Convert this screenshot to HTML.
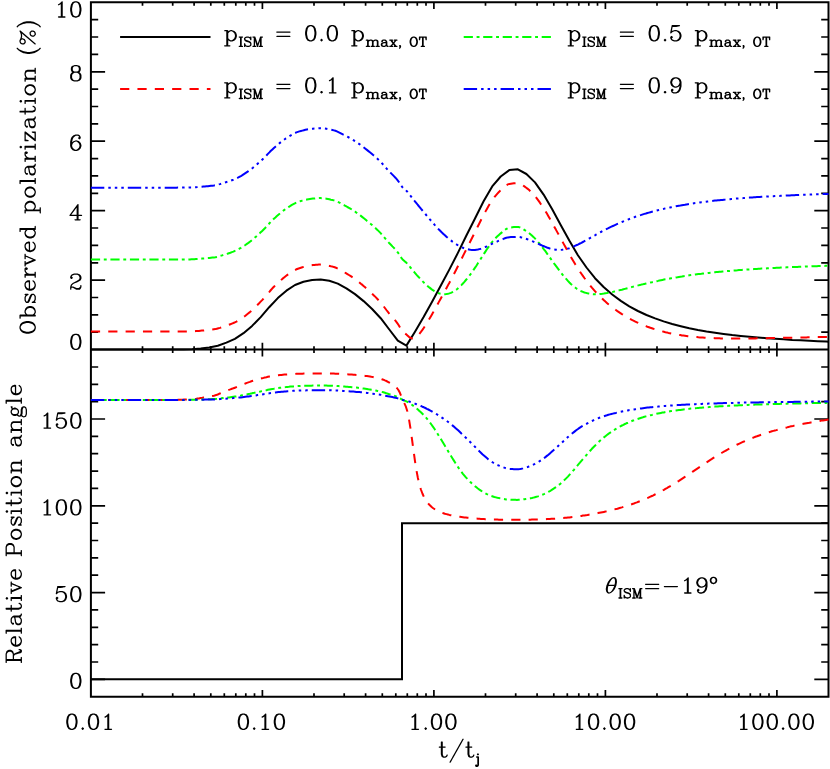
<!DOCTYPE html>
<html><head><meta charset="utf-8"><title>plot</title>
<style>html,body{margin:0;padding:0;background:#fff;font-family:"Liberation Sans",sans-serif;}svg{display:block}</style>
</head><body>
<svg width="830" height="769" viewBox="0 0 830 769">
<rect width="830" height="769" fill="#fff"/>
<defs><path id="g0" d="M4.81,-20.88 4.38,-20.62 3.38,-19.62 3.19,-19.38 2.19,-17.38 2.19,-17.06 2.12,-17.00 2.12,-16.00 2.19,-15.94 2.19,-15.69 2.38,-15.38 3.56,-14.25 4.00,-14.12 4.44,-14.25 5.62,-15.38 5.81,-15.69 5.81,-15.94 5.88,-16.00 5.81,-16.06 5.81,-16.31 5.62,-16.62 4.38,-17.81 4.69,-18.44 5.50,-19.25 8.06,-20.12 11.81,-20.12 13.44,-19.31 14.31,-18.44 15.12,-16.81 15.12,-15.19 14.38,-13.69 14.19,-13.50 11.56,-11.75 5.62,-8.81 3.38,-6.62 3.12,-6.19 2.19,-3.38 2.19,-3.06 2.12,-3.00 2.12,0.00 2.19,0.06 2.19,0.31 2.69,0.81 2.94,0.81 3.00,0.88 3.44,0.75 3.75,0.44 3.88,0.00 3.88,-1.62 4.38,-2.12 5.81,-2.12 10.69,0.81 10.94,0.81 11.00,0.88 15.00,0.88 15.06,0.81 15.31,0.81 15.62,0.62 16.81,-0.62 17.81,-2.62 17.81,-2.94 17.88,-3.00 17.88,-5.00 17.75,-5.44 17.31,-5.81 17.06,-5.81 17.00,-5.88 16.94,-5.81 16.69,-5.81 16.19,-5.31 16.19,-5.06 16.12,-5.00 16.12,-3.38 15.44,-2.69 13.81,-1.88 11.12,-1.88 6.38,-3.81 6.06,-3.81 6.00,-3.88 4.31,-3.88 4.25,-4.06 4.75,-5.50 6.56,-7.31 8.56,-8.31 8.69,-8.31 8.88,-8.44 9.00,-8.44 9.19,-8.56 9.31,-8.56 9.50,-8.69 9.62,-8.69 9.81,-8.81 13.06,-10.06 13.38,-10.25 13.50,-10.25 16.50,-12.25 16.81,-12.62 17.81,-14.62 17.81,-14.94 17.88,-15.00 17.88,-17.00 17.81,-17.06 17.81,-17.38 16.81,-19.38 15.62,-20.62 15.19,-20.88 12.38,-21.81 12.06,-21.81 12.00,-21.88 8.00,-21.88 7.94,-21.81 7.62,-21.81Z"/>
<path id="g1" d="M13.00,-21.88 12.56,-21.75 12.19,-21.38 11.62,-20.62 11.50,-20.38 1.31,-6.56 1.12,-6.00 1.25,-5.56 1.56,-5.25 2.00,-5.12 11.06,-5.12 11.12,-5.06 11.12,-0.94 11.06,-0.88 9.00,-0.88 8.56,-0.75 8.19,-0.31 8.19,-0.06 8.12,0.00 8.19,0.06 8.19,0.31 8.56,0.75 9.00,0.88 16.00,0.88 16.44,0.75 16.75,0.44 16.88,0.00 16.75,-0.44 16.44,-0.75 16.00,-0.88 13.94,-0.88 13.88,-0.94 13.88,-5.06 13.94,-5.12 18.00,-5.12 18.44,-5.25 18.75,-5.56 18.88,-6.00 18.75,-6.44 18.44,-6.75 18.00,-6.88 13.94,-6.88 13.88,-6.94 13.88,-21.00 13.75,-21.44 13.44,-21.75ZM11.06,-16.88 11.12,-16.81 11.12,-6.94 11.06,-6.88 3.81,-6.88 3.75,-6.94Z"/>
<path id="g2" d="M13.38,-21.81 13.06,-21.81 13.00,-21.88 10.00,-21.88 9.94,-21.81 9.62,-21.81 6.81,-20.88 6.38,-20.62 4.19,-18.38 3.19,-16.38 2.19,-12.25 2.12,-12.19 2.19,-12.12 2.12,-12.00 2.12,-6.00 2.19,-5.94 2.19,-5.62 3.12,-2.81 3.38,-2.38 5.56,-0.25 8.62,0.81 8.94,0.81 9.00,0.88 11.00,0.88 11.06,0.81 11.38,0.81 14.19,-0.12 14.62,-0.38 16.75,-2.56 17.81,-5.62 17.81,-5.94 17.88,-6.00 17.88,-7.00 17.81,-7.06 17.81,-7.38 16.88,-10.19 16.62,-10.62 14.62,-12.62 14.19,-12.88 11.38,-13.81 11.06,-13.81 11.00,-13.88 10.00,-13.88 9.94,-13.81 9.62,-13.81 6.56,-12.75 4.94,-11.19 4.88,-11.25 4.88,-12.00 4.94,-12.06 5.75,-15.50 6.69,-17.44 8.56,-19.31 10.19,-20.12 12.81,-20.12 14.38,-19.31 14.62,-18.81 13.38,-17.62 13.19,-17.31 13.19,-17.06 13.12,-17.00 13.19,-16.94 13.19,-16.69 13.38,-16.38 14.56,-15.25 15.00,-15.12 15.44,-15.25 16.62,-16.38 16.81,-16.69 16.81,-16.94 16.88,-17.00 16.88,-18.00 16.81,-18.06 16.81,-18.38 15.81,-20.38 15.38,-20.81ZM10.06,-12.12 10.81,-12.12 12.44,-11.31 14.25,-9.50 15.12,-6.94 15.12,-6.06 14.25,-3.50 12.44,-1.69 10.81,-0.88 9.19,-0.88 7.56,-1.69 5.75,-3.50 4.88,-6.06 4.88,-6.94 5.75,-9.50 7.50,-11.25Z"/>
<path id="g3" d="M7.62,-21.81 4.56,-20.75 4.19,-20.38 3.19,-18.38 3.19,-18.06 3.12,-18.00 3.12,-15.00 3.19,-14.94 3.19,-14.62 4.19,-12.62 4.56,-12.25 5.19,-12.00 4.38,-11.62 3.38,-10.62 3.19,-10.38 2.19,-8.38 2.19,-8.06 2.12,-8.00 2.12,-4.00 2.19,-3.94 2.19,-3.62 3.19,-1.62 4.38,-0.38 4.81,-0.12 7.62,0.81 7.94,0.81 8.00,0.88 12.00,0.88 12.06,0.81 12.38,0.81 15.19,-0.12 15.62,-0.38 16.81,-1.62 17.81,-3.62 17.81,-3.94 17.88,-4.00 17.88,-8.00 17.81,-8.06 17.81,-8.38 16.81,-10.38 16.62,-10.62 15.62,-11.62 14.81,-12.00 15.44,-12.25 15.81,-12.62 16.81,-14.62 16.81,-14.94 16.88,-15.00 16.88,-18.00 16.81,-18.06 16.81,-18.38 15.81,-20.38 15.44,-20.75 15.19,-20.88 12.38,-21.81 12.06,-21.81 12.00,-21.88 8.00,-21.88 7.94,-21.81ZM8.19,-11.12 11.81,-11.12 13.44,-10.31 14.31,-9.44 15.12,-7.81 15.12,-4.19 14.31,-2.56 13.44,-1.69 11.81,-0.88 8.19,-0.88 6.56,-1.69 5.69,-2.56 4.88,-4.19 4.88,-7.81 5.69,-9.44 6.56,-10.31ZM6.62,-19.31 8.19,-20.12 11.81,-20.12 13.31,-19.38 14.12,-17.81 14.12,-15.19 13.38,-13.69 11.81,-12.88 8.19,-12.88 6.69,-13.62 5.88,-15.19 5.88,-17.81Z"/>
<path id="g4" d="M9.00,-21.88 8.94,-21.81 8.62,-21.81 5.56,-20.75 5.25,-20.50 3.25,-17.50 3.06,-16.94 3.06,-16.69 3.00,-16.62 3.00,-16.38 2.94,-16.31 2.94,-16.06 2.88,-16.00 2.88,-15.75 2.81,-15.69 2.81,-15.44 2.75,-15.38 2.75,-15.12 2.69,-15.06 2.69,-14.81 2.62,-14.75 2.62,-14.50 2.56,-14.44 2.56,-14.19 2.50,-14.12 2.50,-13.88 2.44,-13.81 2.44,-13.56 2.38,-13.50 2.38,-13.25 2.31,-13.19 2.31,-12.94 2.12,-12.25 2.19,-12.12 2.12,-12.00 2.12,-9.00 2.19,-8.94 2.12,-8.75 2.19,-8.69 2.19,-8.44 2.25,-8.38 2.25,-8.12 2.31,-8.06 2.31,-7.81 2.38,-7.75 2.38,-7.50 2.44,-7.44 2.44,-7.19 2.50,-7.12 2.50,-6.88 2.56,-6.81 2.56,-6.56 2.62,-6.50 2.62,-6.25 2.69,-6.19 2.69,-5.94 2.75,-5.88 3.12,-3.81 3.25,-3.62 3.25,-3.50 5.25,-0.50 5.81,-0.12 8.62,0.81 8.94,0.81 9.00,0.88 11.00,0.88 11.06,0.81 11.38,0.81 14.44,-0.25 14.75,-0.50 16.75,-3.50 16.94,-4.06 16.94,-4.31 17.00,-4.38 17.00,-4.62 17.06,-4.69 17.06,-4.94 17.12,-5.00 17.12,-5.25 17.19,-5.31 17.19,-5.56 17.25,-5.62 17.25,-5.88 17.31,-5.94 17.31,-6.19 17.38,-6.25 17.38,-6.50 17.44,-6.56 17.44,-6.81 17.50,-6.88 17.50,-7.12 17.56,-7.19 17.56,-7.44 17.62,-7.50 17.62,-7.75 17.69,-7.81 17.69,-8.06 17.88,-8.75 17.81,-8.88 17.88,-9.00 17.88,-12.00 17.81,-12.06 17.88,-12.25 17.81,-12.31 17.81,-12.56 17.75,-12.62 17.75,-12.88 17.69,-12.94 17.69,-13.19 17.62,-13.25 17.62,-13.50 17.56,-13.56 17.56,-13.81 17.50,-13.88 17.50,-14.12 17.44,-14.19 17.44,-14.44 17.38,-14.50 17.38,-14.75 17.31,-14.81 17.31,-15.06 17.25,-15.12 16.88,-17.19 16.75,-17.38 16.75,-17.50 14.75,-20.50 14.19,-20.88 11.38,-21.81 11.06,-21.81 11.00,-21.88ZM9.19,-20.12 10.81,-20.12 12.44,-19.31 13.31,-18.44 14.19,-16.69 14.19,-16.44 14.25,-16.38 14.25,-16.12 14.31,-16.06 14.31,-15.81 14.38,-15.75 14.38,-15.50 14.44,-15.44 14.44,-15.19 14.50,-15.12 14.50,-14.88 14.56,-14.81 14.56,-14.56 14.62,-14.50 14.62,-14.25 14.69,-14.19 14.69,-13.94 14.75,-13.88 14.75,-13.62 14.81,-13.56 14.81,-13.31 14.88,-13.25 14.88,-13.00 14.94,-12.94 14.94,-12.69 15.12,-12.00 15.12,-9.00 15.06,-8.94 15.06,-8.69 15.00,-8.62 15.00,-8.38 14.94,-8.31 14.94,-8.06 14.88,-8.00 14.88,-7.75 14.81,-7.69 14.81,-7.44 14.75,-7.38 14.75,-7.12 14.69,-7.06 14.19,-4.31 13.31,-2.56 12.44,-1.69 10.81,-0.88 9.19,-0.88 7.56,-1.69 6.69,-2.56 5.81,-4.31 5.81,-4.56 5.75,-4.62 5.75,-4.88 5.69,-4.94 5.69,-5.19 5.62,-5.25 5.62,-5.50 5.56,-5.56 5.56,-5.81 5.50,-5.88 5.50,-6.12 5.44,-6.19 5.44,-6.44 5.38,-6.50 5.38,-6.75 5.31,-6.81 5.31,-7.06 5.25,-7.12 5.25,-7.38 5.19,-7.44 5.19,-7.69 5.12,-7.75 5.12,-8.00 5.06,-8.06 5.06,-8.31 4.88,-9.00 4.88,-12.00 4.94,-12.06 4.94,-12.31 5.00,-12.38 5.00,-12.62 5.06,-12.69 5.06,-12.94 5.12,-13.00 5.12,-13.25 5.19,-13.31 5.19,-13.56 5.25,-13.62 5.25,-13.88 5.31,-13.94 5.81,-16.69 6.69,-18.44 7.56,-19.31Z"/>
<path id="g5" d="M11.31,-21.81 11.06,-21.81 11.00,-21.88 10.94,-21.81 10.69,-21.81 10.38,-21.62 7.44,-18.69 5.62,-17.81 5.19,-17.31 5.19,-17.06 5.12,-17.00 5.25,-16.56 5.56,-16.25 6.00,-16.12 6.06,-16.19 6.38,-16.19 8.38,-17.19 9.06,-17.81 9.12,-17.75 9.12,-0.94 9.06,-0.88 6.00,-0.88 5.56,-0.75 5.25,-0.44 5.12,0.00 5.25,0.44 5.69,0.81 5.94,0.81 6.00,0.88 15.00,0.88 15.44,0.75 15.81,0.31 15.81,0.06 15.88,0.00 15.81,-0.06 15.81,-0.31 15.31,-0.81 15.06,-0.81 15.00,-0.88 11.94,-0.88 11.88,-0.94 11.88,-21.00 11.75,-21.44Z"/>
<path id="g6" d="M4.69,-21.81 4.25,-21.44 4.06,-20.94 4.06,-20.69 4.00,-20.62 4.00,-20.38 3.94,-20.31 3.94,-20.06 3.88,-20.00 3.88,-19.75 3.81,-19.69 3.81,-19.44 3.75,-19.38 3.75,-19.12 3.69,-19.06 3.69,-18.81 3.62,-18.75 3.62,-18.50 3.56,-18.44 3.56,-18.19 3.50,-18.12 3.50,-17.88 3.44,-17.81 3.44,-17.56 3.38,-17.50 3.38,-17.25 3.31,-17.19 3.31,-16.94 3.25,-16.88 3.25,-16.62 3.19,-16.56 3.19,-16.31 3.12,-16.25 3.12,-16.00 3.06,-15.94 3.06,-15.69 3.00,-15.62 3.00,-15.38 2.94,-15.31 2.94,-15.06 2.88,-15.00 2.88,-14.75 2.81,-14.69 2.81,-14.44 2.75,-14.38 2.75,-14.12 2.69,-14.06 2.69,-13.81 2.62,-13.75 2.62,-13.50 2.56,-13.44 2.56,-13.19 2.50,-13.12 2.50,-12.88 2.44,-12.81 2.44,-12.56 2.38,-12.50 2.38,-12.25 2.31,-12.19 2.31,-11.94 2.12,-11.25 2.25,-10.56 2.69,-10.19 2.94,-10.19 3.00,-10.12 3.06,-10.19 3.31,-10.19 3.62,-10.38 5.50,-12.25 8.06,-13.12 10.81,-13.12 12.44,-12.31 14.25,-10.50 15.12,-7.94 15.12,-6.06 14.25,-3.50 12.44,-1.69 10.81,-0.88 8.06,-0.88 5.50,-1.75 4.69,-2.56 4.38,-3.19 5.62,-4.38 5.81,-4.69 5.81,-4.94 5.88,-5.00 5.81,-5.06 5.81,-5.31 5.62,-5.62 4.62,-6.62 4.31,-6.81 4.06,-6.81 4.00,-6.88 3.56,-6.75 2.38,-5.62 2.19,-5.31 2.19,-5.06 2.12,-5.00 2.12,-4.00 2.19,-3.94 2.19,-3.62 3.19,-1.62 4.38,-0.38 4.81,-0.12 7.62,0.81 7.94,0.81 8.00,0.88 11.00,0.88 11.06,0.81 11.38,0.81 14.19,-0.12 14.62,-0.38 16.75,-2.56 17.81,-5.62 17.81,-5.94 17.88,-6.00 17.88,-8.00 17.81,-8.06 17.81,-8.38 16.88,-11.19 16.62,-11.62 14.44,-13.75 11.38,-14.81 11.06,-14.81 11.00,-14.88 8.00,-14.88 7.94,-14.81 7.62,-14.81 4.81,-13.88 4.50,-13.69 4.44,-13.81 4.50,-13.88 4.50,-14.12 4.56,-14.19 4.56,-14.44 4.62,-14.50 4.62,-14.75 4.69,-14.81 4.69,-15.06 4.75,-15.12 4.75,-15.38 4.81,-15.44 4.81,-15.69 4.88,-15.75 4.88,-16.00 4.94,-16.06 5.44,-18.81 5.56,-19.12 10.00,-19.12 10.06,-19.19 10.25,-19.12 10.31,-19.19 10.56,-19.19 10.62,-19.25 10.88,-19.25 10.94,-19.31 11.19,-19.31 11.25,-19.38 11.50,-19.38 11.56,-19.44 11.81,-19.44 11.88,-19.50 12.12,-19.50 12.19,-19.56 14.94,-20.06 15.44,-20.25 15.75,-20.56 15.88,-21.00 15.81,-21.06 15.81,-21.31 15.44,-21.75 15.00,-21.88 5.00,-21.88 4.94,-21.81Z"/>
<path id="g7" d="M5.00,-2.88 4.94,-2.81 4.69,-2.81 4.38,-2.62 3.38,-1.62 3.19,-1.31 3.19,-1.06 3.12,-1.00 3.19,-0.94 3.19,-0.69 3.38,-0.38 4.38,0.62 4.69,0.81 4.94,0.81 5.00,0.88 5.06,0.81 5.31,0.81 5.62,0.62 6.62,-0.38 6.81,-0.69 6.81,-0.94 6.88,-1.00 6.81,-1.06 6.81,-1.31 6.62,-1.62 5.62,-2.62 5.31,-2.81 5.06,-2.81Z"/>
<path id="g8" d="M4.69,-21.81 4.25,-21.44 4.12,-21.00 4.12,-14.94 4.06,-14.88 2.00,-14.88 1.94,-14.81 1.69,-14.81 1.19,-14.31 1.19,-14.06 1.12,-14.00 1.19,-13.94 1.19,-13.69 1.69,-13.19 1.94,-13.19 2.00,-13.12 4.06,-13.12 4.12,-13.06 4.12,-4.00 4.19,-3.94 4.19,-3.62 5.25,-0.56 5.62,-0.19 7.62,0.81 7.94,0.81 8.00,0.88 10.00,0.88 10.06,0.81 10.38,0.81 12.38,-0.19 12.81,-0.62 13.81,-2.62 13.81,-2.94 13.88,-3.00 13.81,-3.06 13.81,-3.31 13.31,-3.81 13.06,-3.81 13.00,-3.88 12.56,-3.75 12.19,-3.38 11.38,-1.69 9.81,-0.88 8.38,-0.88 7.69,-1.62 6.88,-4.06 6.88,-13.06 6.94,-13.12 10.00,-13.12 10.06,-13.19 10.31,-13.19 10.75,-13.56 10.88,-14.00 10.75,-14.44 10.31,-14.81 10.06,-14.81 10.00,-14.88 6.94,-14.88 6.88,-14.94 6.88,-21.00 6.81,-21.06 6.81,-21.31 6.31,-21.81 6.06,-21.81 6.00,-21.88 5.94,-21.81 5.69,-21.81 5.50,-21.69 5.31,-21.81 5.06,-21.81 5.00,-21.88 4.94,-21.81Z"/>
<path id="g9" d="M20.44,-25.75 20.00,-25.88 19.56,-25.75 19.19,-25.38 18.75,-24.62 18.56,-24.19 18.19,-23.62 18.00,-23.19 17.62,-22.62 17.44,-22.19 17.06,-21.62 16.88,-21.19 16.50,-20.62 16.31,-20.19 15.94,-19.62 15.75,-19.19 15.38,-18.62 15.19,-18.19 14.81,-17.62 14.62,-17.19 14.25,-16.62 14.06,-16.19 13.69,-15.62 13.50,-15.19 13.12,-14.62 12.94,-14.19 12.56,-13.62 12.38,-13.19 12.00,-12.62 11.81,-12.19 11.44,-11.62 11.25,-11.19 10.88,-10.62 10.69,-10.19 10.31,-9.62 10.12,-9.19 9.75,-8.62 9.56,-8.19 9.19,-7.62 9.00,-7.19 8.62,-6.62 8.44,-6.19 8.06,-5.62 7.88,-5.19 7.50,-4.62 7.31,-4.19 6.94,-3.62 6.75,-3.19 6.38,-2.62 6.19,-2.19 5.81,-1.62 5.62,-1.19 5.25,-0.62 5.06,-0.19 4.94,-0.06 3.38,2.81 3.00,3.38 2.81,3.81 2.44,4.38 2.25,4.81 1.88,5.38 1.69,5.81 1.31,6.38 1.12,7.00 1.25,7.44 1.56,7.75 2.00,7.88 2.44,7.75 2.81,7.38 3.25,6.62 3.44,6.19 3.81,5.62 4.00,5.19 4.38,4.62 4.56,4.19 4.94,3.62 5.12,3.19 5.50,2.62 5.69,2.19 6.06,1.62 6.25,1.19 6.62,0.62 6.81,0.19 7.19,-0.38 7.38,-0.81 7.75,-1.38 7.94,-1.81 8.31,-2.38 8.50,-2.81 8.88,-3.38 9.06,-3.81 9.44,-4.38 9.62,-4.81 10.00,-5.38 10.19,-5.81 10.56,-6.38 10.75,-6.81 11.12,-7.38 11.31,-7.81 11.69,-8.38 11.88,-8.81 12.25,-9.38 12.44,-9.81 12.81,-10.38 13.00,-10.81 13.38,-11.38 13.56,-11.81 13.94,-12.38 14.12,-12.81 14.50,-13.38 14.69,-13.81 15.06,-14.38 15.25,-14.81 15.62,-15.38 15.81,-15.81 16.19,-16.38 16.38,-16.81 16.75,-17.38 16.94,-17.81 17.06,-17.94 18.62,-20.81 19.00,-21.38 19.19,-21.81 19.56,-22.38 19.75,-22.81 20.12,-23.38 20.31,-23.81 20.69,-24.38 20.88,-25.00 20.75,-25.44Z"/>
<path id="g10" d="M7.38,-15.38 7.06,-15.38 7.00,-15.44 3.00,-15.44 2.94,-15.38 2.62,-15.38 2.12,-15.12 1.88,-14.88 1.62,-14.38 1.62,-14.06 1.56,-14.00 1.62,-13.94 1.69,-13.44 1.88,-13.12 2.31,-12.75 3.00,-12.56 4.50,-12.56 4.56,-12.50 4.56,3.69 4.31,4.19 4.19,4.25 2.69,2.75 2.00,2.56 1.94,2.62 1.62,2.62 1.12,2.88 -0.12,4.12 -0.31,4.44 -0.38,4.94 -0.44,5.00 -0.44,6.00 -0.25,6.69 1.12,8.12 1.62,8.38 1.94,8.38 2.00,8.44 4.00,8.44 4.06,8.38 4.38,8.38 4.44,8.31 4.62,8.31 6.62,7.31 7.31,6.62 8.31,4.62 8.31,4.44 8.38,4.38 8.38,4.06 8.44,4.00 8.44,-14.00 8.38,-14.06 8.31,-14.56 8.12,-14.88 7.88,-15.12ZM6.00,-22.44 5.94,-22.38 5.44,-22.31 5.12,-22.12 3.88,-20.88 3.69,-20.56 3.62,-20.06 3.56,-20.00 3.62,-19.94 3.69,-19.44 3.88,-19.12 5.12,-17.88 5.44,-17.69 5.94,-17.62 6.00,-17.56 6.06,-17.62 6.56,-17.69 6.88,-17.88 8.12,-19.12 8.31,-19.44 8.38,-19.94 8.44,-20.00 8.38,-20.06 8.31,-20.56 8.12,-20.88 6.88,-22.12 6.56,-22.31 6.06,-22.38Z"/>
<path id="g11" d="M10.00,-21.88 9.94,-21.81 9.62,-21.81 6.56,-20.75 4.19,-18.38 3.19,-16.38 2.19,-12.25 2.12,-12.19 2.19,-12.12 2.12,-12.00 2.12,-9.00 2.19,-8.88 2.12,-8.81 2.19,-8.75 3.12,-4.81 4.19,-2.62 6.38,-0.38 6.81,-0.12 9.62,0.81 9.94,0.81 10.00,0.88 12.00,0.88 12.06,0.81 12.38,0.81 15.44,-0.25 17.81,-2.62 18.81,-4.62 19.81,-8.75 19.88,-8.81 19.81,-8.88 19.88,-9.00 19.88,-12.00 19.81,-12.12 19.88,-12.19 19.81,-12.25 18.88,-16.19 17.81,-18.38 15.62,-20.62 15.19,-20.88 12.38,-21.81 12.06,-21.81 12.00,-21.88ZM10.19,-20.12 11.81,-20.12 13.44,-19.31 15.31,-17.44 16.19,-15.69 17.06,-12.06 17.12,-12.00 17.12,-9.00 17.06,-8.94 16.19,-5.31 15.31,-3.56 13.44,-1.69 11.81,-0.88 10.19,-0.88 8.56,-1.69 6.69,-3.56 5.81,-5.31 4.94,-8.94 4.88,-9.00 4.88,-12.00 4.94,-12.06 5.81,-15.69 6.69,-17.44 8.56,-19.31Z"/>
<path id="g12" d="M1.56,-21.75 1.25,-21.44 1.12,-21.00 1.25,-20.56 1.56,-20.25 2.00,-20.12 4.06,-20.12 4.12,-20.06 4.12,0.00 4.25,0.44 4.56,0.75 5.00,0.88 5.06,0.81 5.31,0.81 5.50,0.69 5.69,0.81 5.94,0.81 6.00,0.88 6.06,0.81 6.31,0.81 6.81,0.31 6.88,-0.75 6.94,-0.81 7.62,-0.19 9.62,0.81 9.94,0.81 10.00,0.88 12.00,0.88 12.06,0.81 12.38,0.81 15.44,-0.25 17.75,-2.56 18.81,-5.62 18.81,-5.94 18.88,-6.00 18.88,-8.00 18.81,-8.06 18.81,-8.38 17.75,-11.44 15.44,-13.75 12.38,-14.81 12.06,-14.81 12.00,-14.88 10.00,-14.88 9.94,-14.81 9.62,-14.81 7.62,-13.81 6.94,-13.19 6.88,-13.25 6.88,-21.00 6.75,-21.44 6.44,-21.75 6.00,-21.88 2.00,-21.88ZM10.19,-13.12 11.81,-13.12 13.44,-12.31 15.25,-10.50 16.12,-7.94 16.12,-6.06 15.25,-3.50 13.44,-1.69 11.81,-0.88 10.19,-0.88 8.56,-1.69 6.88,-3.38 6.88,-10.62 8.56,-12.31Z"/>
<path id="g13" d="M5.62,-14.81 3.62,-13.81 2.25,-12.44 2.12,-12.00 2.12,-10.00 2.25,-9.56 3.62,-8.19 5.62,-7.19 5.75,-7.19 5.94,-7.06 6.06,-7.06 6.25,-6.94 6.38,-6.94 6.56,-6.81 6.69,-6.81 6.88,-6.69 7.00,-6.69 7.19,-6.56 10.44,-5.31 12.44,-4.31 13.12,-3.62 13.12,-2.38 12.44,-1.69 10.81,-0.88 7.19,-0.88 5.56,-1.69 4.69,-2.56 3.81,-4.38 3.31,-4.81 3.06,-4.81 3.00,-4.88 2.94,-4.81 2.69,-4.81 2.25,-4.44 2.12,-4.00 2.12,0.00 2.19,0.06 2.19,0.31 2.69,0.81 2.94,0.81 3.00,0.88 3.06,0.81 3.31,0.81 3.81,0.38 4.25,-0.50 4.62,-0.19 6.62,0.81 6.94,0.81 7.00,0.88 11.00,0.88 11.06,0.81 11.38,0.81 13.38,-0.19 14.75,-1.56 14.88,-2.00 14.88,-5.00 14.75,-5.44 13.38,-6.81 11.38,-7.81 11.25,-7.81 11.06,-7.94 10.94,-7.94 10.75,-8.06 10.62,-8.06 10.44,-8.19 10.31,-8.19 10.12,-8.31 10.00,-8.31 9.81,-8.44 6.56,-9.69 4.56,-10.69 3.88,-11.38 3.88,-11.62 4.56,-12.31 6.19,-13.12 9.81,-13.12 11.44,-12.31 12.31,-11.44 13.19,-9.62 13.69,-9.19 13.94,-9.19 14.00,-9.12 14.06,-9.19 14.31,-9.19 14.75,-9.56 14.88,-10.00 14.88,-14.00 14.81,-14.06 14.81,-14.31 14.31,-14.81 14.06,-14.81 14.00,-14.88 13.94,-14.81 13.69,-14.81 13.19,-14.38 12.75,-13.50 12.38,-13.81 10.38,-14.81 10.06,-14.81 10.00,-14.88 6.00,-14.88 5.94,-14.81Z"/>
<path id="g14" d="M9.00,-14.88 8.94,-14.81 8.62,-14.81 5.56,-13.75 3.38,-11.62 3.12,-11.19 2.19,-8.38 2.19,-8.06 2.12,-8.00 2.12,-6.00 2.19,-5.94 2.19,-5.62 3.25,-2.56 5.38,-0.38 5.81,-0.12 8.62,0.81 8.94,0.81 9.00,0.88 11.00,0.88 11.06,0.81 11.38,0.81 14.19,-0.12 14.62,-0.38 16.62,-2.38 16.81,-2.69 16.81,-2.94 16.88,-3.00 16.75,-3.44 16.31,-3.81 16.06,-3.81 16.00,-3.88 15.94,-3.81 15.69,-3.81 15.38,-3.62 13.38,-1.69 10.94,-0.88 9.19,-0.88 7.56,-1.69 5.75,-3.50 4.88,-6.06 4.88,-7.06 4.94,-7.12 16.00,-7.12 16.06,-7.19 16.31,-7.19 16.81,-7.69 16.81,-7.94 16.88,-8.00 16.88,-10.00 16.81,-10.06 16.81,-10.38 15.81,-12.38 14.38,-13.81 12.38,-14.81 12.06,-14.81 12.00,-14.88ZM5.25,-9.06 5.75,-10.50 7.56,-12.31 9.19,-13.12 11.81,-13.12 13.31,-12.38 14.12,-10.81 14.12,-8.94 14.06,-8.88 5.31,-8.88Z"/>
<path id="g15" d="M1.69,-14.81 1.25,-14.44 1.12,-14.00 1.25,-13.56 1.56,-13.25 2.00,-13.12 4.06,-13.12 4.12,-13.06 4.12,-0.94 4.06,-0.88 2.00,-0.88 1.94,-0.81 1.69,-0.81 1.19,-0.31 1.19,-0.06 1.12,0.00 1.19,0.06 1.19,0.31 1.56,0.75 2.00,0.88 9.00,0.88 9.06,0.81 9.31,0.81 9.75,0.44 9.88,0.00 9.75,-0.44 9.44,-0.75 9.00,-0.88 6.94,-0.88 6.88,-0.94 6.88,-7.94 7.69,-10.38 9.56,-12.31 11.19,-13.12 12.75,-13.12 12.81,-13.06 12.38,-12.62 12.19,-12.31 12.19,-12.06 12.12,-12.00 12.25,-11.56 13.38,-10.38 13.69,-10.19 13.94,-10.19 14.00,-10.12 14.06,-10.19 14.31,-10.19 14.62,-10.38 15.62,-11.38 15.81,-11.69 15.81,-11.94 15.88,-12.00 15.88,-13.00 15.81,-13.06 15.81,-13.31 15.62,-13.62 14.62,-14.62 14.31,-14.81 14.06,-14.81 14.00,-14.88 11.00,-14.88 10.94,-14.81 10.62,-14.81 8.62,-13.81 6.94,-12.19 6.88,-12.25 6.88,-14.00 6.75,-14.44 6.44,-14.75 6.00,-14.88 2.00,-14.88 1.94,-14.81Z"/>
<path id="g16" d="M0.56,-14.75 0.25,-14.44 0.12,-14.00 0.25,-13.56 0.56,-13.25 1.00,-13.12 2.38,-13.12 2.44,-13.06 8.19,0.38 8.69,0.81 8.94,0.81 9.00,0.88 9.44,0.75 9.81,0.38 9.94,0.12 9.94,0.00 10.12,-0.31 10.12,-0.44 10.31,-0.75 10.31,-0.88 10.50,-1.19 10.50,-1.31 10.69,-1.62 10.69,-1.75 10.88,-2.06 10.88,-2.19 11.06,-2.50 11.06,-2.62 11.25,-2.94 11.25,-3.06 11.44,-3.38 11.44,-3.50 11.62,-3.81 11.62,-3.94 11.81,-4.25 11.81,-4.38 12.00,-4.69 12.00,-4.81 12.19,-5.12 12.19,-5.25 12.38,-5.56 12.38,-5.69 12.56,-6.00 12.56,-6.12 12.75,-6.44 12.75,-6.56 12.94,-6.88 12.94,-7.00 13.12,-7.31 13.12,-7.44 13.31,-7.75 13.31,-7.88 13.50,-8.19 13.50,-8.31 13.69,-8.62 13.69,-8.75 13.88,-9.06 13.88,-9.19 14.06,-9.50 14.06,-9.62 14.25,-9.94 14.25,-10.06 14.44,-10.38 14.44,-10.50 14.62,-10.81 14.62,-10.94 14.81,-11.25 14.81,-11.38 15.62,-13.12 17.00,-13.12 17.44,-13.25 17.81,-13.69 17.81,-13.94 17.88,-14.00 17.75,-14.44 17.44,-14.75 17.00,-14.88 11.00,-14.88 10.56,-14.75 10.25,-14.44 10.12,-14.00 10.19,-13.94 10.19,-13.69 10.69,-13.19 10.94,-13.19 11.00,-13.12 13.56,-13.12 13.62,-13.00 9.44,-3.31 9.31,-3.44 9.19,-3.88 9.00,-4.19 8.88,-4.62 8.69,-4.94 8.56,-5.38 8.38,-5.69 8.25,-6.12 8.06,-6.44 7.94,-6.88 7.75,-7.19 7.62,-7.62 7.44,-7.94 7.31,-8.38 7.12,-8.69 7.00,-9.12 6.81,-9.44 6.69,-9.88 6.50,-10.19 6.38,-10.62 6.19,-10.94 6.06,-11.38 5.31,-13.06 5.38,-13.12 7.00,-13.12 7.44,-13.25 7.81,-13.69 7.81,-13.94 7.88,-14.00 7.75,-14.44 7.44,-14.75 7.00,-14.88 1.00,-14.88Z"/>
<path id="g17" d="M11.69,-21.81 11.25,-21.44 11.12,-21.00 11.25,-20.56 11.56,-20.25 12.00,-20.12 14.06,-20.12 14.12,-20.06 14.12,-13.25 14.06,-13.19 13.38,-13.81 11.38,-14.81 11.06,-14.81 11.00,-14.88 9.00,-14.88 8.94,-14.81 8.62,-14.81 5.81,-13.88 5.38,-13.62 3.25,-11.44 2.19,-8.38 2.19,-8.06 2.12,-8.00 2.12,-6.00 2.19,-5.94 2.19,-5.62 3.12,-2.81 3.38,-2.38 5.56,-0.25 8.62,0.81 8.94,0.81 9.00,0.88 11.00,0.88 11.06,0.81 11.38,0.81 13.38,-0.19 14.06,-0.81 14.12,-0.75 14.19,0.31 14.69,0.81 14.94,0.81 15.00,0.88 19.00,0.88 19.06,0.81 19.31,0.81 19.75,0.44 19.88,0.00 19.75,-0.44 19.44,-0.75 19.00,-0.88 16.94,-0.88 16.88,-0.94 16.88,-21.00 16.81,-21.06 16.81,-21.31 16.44,-21.75 16.00,-21.88 12.00,-21.88 11.94,-21.81ZM9.19,-13.12 10.81,-13.12 12.44,-12.31 14.12,-10.62 14.12,-3.38 12.44,-1.69 10.81,-0.88 9.19,-0.88 7.56,-1.69 5.75,-3.50 4.88,-6.06 4.88,-7.94 5.75,-10.50 7.56,-12.31Z"/>
<path id="g18" d="M1.69,-14.81 1.25,-14.44 1.12,-14.00 1.25,-13.56 1.56,-13.25 2.00,-13.12 4.06,-13.12 4.12,-13.06 4.12,6.06 4.06,6.12 2.00,6.12 1.94,6.19 1.69,6.19 1.19,6.69 1.19,6.94 1.12,7.00 1.19,7.06 1.19,7.31 1.56,7.75 2.00,7.88 9.00,7.88 9.06,7.81 9.31,7.81 9.75,7.44 9.88,7.00 9.75,6.56 9.44,6.25 9.00,6.12 6.94,6.12 6.88,6.06 6.88,-0.75 6.94,-0.81 7.62,-0.19 9.62,0.81 9.94,0.81 10.00,0.88 12.00,0.88 12.06,0.81 12.38,0.81 15.19,-0.12 15.62,-0.38 17.75,-2.56 18.81,-5.62 18.81,-5.94 18.88,-6.00 18.88,-8.00 18.81,-8.06 18.81,-8.38 17.88,-11.19 17.62,-11.62 15.44,-13.75 12.38,-14.81 12.06,-14.81 12.00,-14.88 10.00,-14.88 9.94,-14.81 9.62,-14.81 7.62,-13.81 6.94,-13.19 6.88,-13.25 6.81,-14.31 6.31,-14.81 6.06,-14.81 6.00,-14.88 2.00,-14.88 1.94,-14.81ZM10.19,-13.12 11.81,-13.12 13.44,-12.31 15.25,-10.50 16.12,-7.94 16.12,-6.06 15.25,-3.50 13.44,-1.69 11.81,-0.88 10.19,-0.88 8.56,-1.69 6.88,-3.38 6.88,-10.62 8.56,-12.31Z"/>
<path id="g19" d="M9.00,-14.88 8.94,-14.81 8.62,-14.81 5.56,-13.75 3.38,-11.62 3.12,-11.19 2.19,-8.38 2.19,-8.06 2.12,-8.00 2.12,-6.00 2.19,-5.94 2.19,-5.62 3.25,-2.56 5.38,-0.38 5.81,-0.12 8.62,0.81 8.94,0.81 9.00,0.88 11.00,0.88 11.06,0.81 11.38,0.81 14.44,-0.25 16.62,-2.38 16.88,-2.81 17.81,-5.62 17.81,-5.94 17.88,-6.00 17.88,-8.00 17.81,-8.06 17.81,-8.38 16.75,-11.44 14.62,-13.62 14.19,-13.88 11.38,-14.81 11.06,-14.81 11.00,-14.88ZM9.19,-13.12 10.81,-13.12 12.44,-12.31 14.25,-10.50 15.12,-7.94 15.12,-6.06 14.25,-3.50 12.44,-1.69 10.81,-0.88 9.19,-0.88 7.56,-1.69 5.75,-3.50 4.88,-6.06 4.88,-7.94 5.75,-10.50 7.56,-12.31Z"/>
<path id="g20" d="M1.69,-21.81 1.25,-21.44 1.12,-21.00 1.25,-20.56 1.56,-20.25 2.00,-20.12 4.06,-20.12 4.12,-20.06 4.12,-0.94 4.06,-0.88 2.00,-0.88 1.94,-0.81 1.69,-0.81 1.19,-0.31 1.19,-0.06 1.12,0.00 1.19,0.06 1.19,0.31 1.56,0.75 2.00,0.88 9.00,0.88 9.06,0.81 9.31,0.81 9.75,0.44 9.88,0.00 9.75,-0.44 9.44,-0.75 9.00,-0.88 6.94,-0.88 6.88,-0.94 6.88,-21.00 6.81,-21.06 6.81,-21.31 6.44,-21.75 6.00,-21.88 2.00,-21.88 1.94,-21.81Z"/>
<path id="g21" d="M3.38,-12.62 3.19,-12.31 3.19,-12.06 3.12,-12.00 3.12,-11.00 3.19,-10.94 3.19,-10.69 3.56,-10.25 4.00,-10.12 5.00,-10.12 5.44,-10.25 5.75,-10.56 5.88,-11.00 5.88,-12.00 5.75,-12.38 7.19,-13.12 10.81,-13.12 12.44,-12.31 13.12,-11.62 13.12,-10.38 12.56,-9.81 6.62,-8.81 3.81,-7.88 3.56,-7.75 3.19,-7.38 2.19,-5.38 2.19,-5.06 2.12,-5.00 2.12,-3.00 2.19,-2.94 2.19,-2.62 3.19,-0.62 3.56,-0.25 6.62,0.81 6.94,0.81 7.00,0.88 10.00,0.88 10.06,0.81 10.38,0.81 12.38,-0.19 13.75,-1.50 14.19,-0.62 14.62,-0.19 16.62,0.81 16.94,0.81 17.00,0.88 18.00,0.88 18.44,0.75 18.75,0.44 18.88,0.00 18.75,-0.44 18.31,-0.81 17.38,-0.88 16.69,-1.56 15.88,-3.19 15.88,-10.00 15.81,-10.06 15.81,-10.38 14.81,-12.38 13.62,-13.62 13.38,-13.81 11.38,-14.81 11.06,-14.81 11.00,-14.88 7.00,-14.88 6.94,-14.81 6.62,-14.81 4.62,-13.81ZM13.12,-8.06 13.12,-3.38 11.44,-1.69 9.81,-0.88 7.19,-0.88 5.62,-1.69 4.88,-3.19 4.88,-4.81 5.69,-6.38 7.31,-7.19 9.06,-7.44 9.12,-7.50 9.44,-7.50 9.50,-7.56 9.81,-7.56 9.88,-7.62 10.19,-7.62 10.25,-7.69 10.56,-7.69 10.62,-7.75 10.94,-7.75 11.00,-7.81 11.31,-7.81 11.38,-7.88 11.69,-7.88 11.75,-7.94 12.06,-7.94 12.12,-8.00 12.44,-8.00 12.50,-8.06 12.81,-8.06 12.88,-8.12 13.06,-8.12Z"/>
<path id="g22" d="M1.69,-14.81 1.25,-14.44 1.12,-14.00 1.25,-13.56 1.56,-13.25 2.00,-13.12 4.06,-13.12 4.12,-13.06 4.12,-0.94 4.06,-0.88 2.00,-0.88 1.94,-0.81 1.69,-0.81 1.19,-0.31 1.19,-0.06 1.12,0.00 1.19,0.06 1.19,0.31 1.56,0.75 2.00,0.88 9.00,0.88 9.06,0.81 9.31,0.81 9.75,0.44 9.88,0.00 9.75,-0.44 9.44,-0.75 9.00,-0.88 6.94,-0.88 6.88,-0.94 6.88,-14.00 6.81,-14.06 6.81,-14.31 6.44,-14.75 6.00,-14.88 2.00,-14.88 1.94,-14.81ZM5.00,-21.88 4.94,-21.81 4.69,-21.81 4.38,-21.62 3.38,-20.62 3.19,-20.31 3.19,-20.06 3.12,-20.00 3.19,-19.94 3.19,-19.69 3.38,-19.38 4.38,-18.38 4.69,-18.19 4.94,-18.19 5.00,-18.12 5.06,-18.19 5.31,-18.19 5.62,-18.38 6.62,-19.38 6.81,-19.69 6.81,-19.94 6.88,-20.00 6.81,-20.06 6.81,-20.31 6.62,-20.62 5.62,-21.62 5.31,-21.81 5.06,-21.81Z"/>
<path id="g23" d="M2.56,-14.75 2.25,-14.44 2.12,-14.00 2.12,-10.00 2.25,-9.56 2.56,-9.25 3.00,-9.12 3.44,-9.25 3.75,-9.56 3.88,-9.81 4.62,-13.00 4.75,-13.12 12.06,-13.12 12.12,-13.06 2.44,-0.75 2.19,-0.31 2.19,-0.06 2.12,0.00 2.25,0.44 2.56,0.75 3.00,0.88 15.00,0.88 15.44,0.75 15.75,0.44 15.88,0.00 15.88,-4.00 15.75,-4.44 15.44,-4.75 15.00,-4.88 14.56,-4.75 14.25,-4.44 14.12,-4.19 13.38,-1.00 13.25,-0.88 5.94,-0.88 5.88,-0.94 15.56,-13.25 15.81,-13.69 15.81,-13.94 15.88,-14.00 15.75,-14.44 15.44,-14.75 15.00,-14.88 3.00,-14.88Z"/>
<path id="g24" d="M1.25,-14.44 1.12,-14.00 1.19,-13.94 1.19,-13.69 1.69,-13.19 1.94,-13.19 2.00,-13.12 4.06,-13.12 4.12,-13.06 4.12,-0.94 4.06,-0.88 2.00,-0.88 1.56,-0.75 1.25,-0.44 1.12,0.00 1.25,0.44 1.56,0.75 2.00,0.88 9.00,0.88 9.44,0.75 9.75,0.44 9.88,0.00 9.81,-0.06 9.81,-0.31 9.31,-0.81 9.06,-0.81 9.00,-0.88 6.94,-0.88 6.88,-0.94 6.88,-10.62 8.50,-12.25 11.06,-13.12 12.81,-13.12 14.31,-12.38 15.12,-10.81 15.12,-0.94 15.06,-0.88 13.00,-0.88 12.94,-0.81 12.69,-0.81 12.19,-0.31 12.19,-0.06 12.12,0.00 12.25,0.44 12.56,0.75 13.00,0.88 20.00,0.88 20.44,0.75 20.75,0.44 20.88,0.00 20.81,-0.06 20.81,-0.31 20.31,-0.81 20.06,-0.81 20.00,-0.88 17.94,-0.88 17.88,-0.94 17.88,-11.00 17.81,-11.06 17.81,-11.38 16.81,-13.38 16.44,-13.75 13.38,-14.81 13.06,-14.81 13.00,-14.88 11.00,-14.88 10.94,-14.81 10.62,-14.81 7.81,-13.88 7.38,-13.62 6.94,-13.19 6.88,-13.25 6.81,-14.31 6.31,-14.81 6.06,-14.81 6.00,-14.88 2.00,-14.88 1.56,-14.75Z"/>
<path id="g25" d="M11.00,-25.88 10.94,-25.81 10.69,-25.81 10.38,-25.62 8.25,-23.50 6.25,-20.50 4.19,-16.38 4.06,-15.69 4.00,-15.62 4.00,-15.38 3.94,-15.31 3.94,-15.06 3.88,-15.00 3.88,-14.75 3.81,-14.69 3.81,-14.44 3.75,-14.38 3.75,-14.12 3.69,-14.06 3.69,-13.81 3.62,-13.75 3.62,-13.50 3.56,-13.44 3.56,-13.19 3.50,-13.12 3.50,-12.88 3.44,-12.81 3.44,-12.56 3.38,-12.50 3.38,-12.25 3.31,-12.19 3.31,-11.94 3.25,-11.88 3.25,-11.62 3.19,-11.56 3.19,-11.31 3.12,-11.25 3.19,-11.12 3.12,-11.00 3.12,-7.00 3.19,-6.94 3.12,-6.75 3.19,-6.69 3.19,-6.44 3.25,-6.38 3.25,-6.12 3.31,-6.06 3.31,-5.81 3.38,-5.75 3.38,-5.50 3.44,-5.44 3.44,-5.19 3.50,-5.12 3.50,-4.88 3.56,-4.81 3.56,-4.56 3.62,-4.50 3.62,-4.25 3.69,-4.19 3.69,-3.94 3.75,-3.88 3.75,-3.62 3.81,-3.56 3.81,-3.31 3.88,-3.25 3.88,-3.00 3.94,-2.94 3.94,-2.69 4.00,-2.62 4.00,-2.38 4.06,-2.31 4.19,-1.62 6.25,2.50 8.25,5.50 10.38,7.62 10.69,7.81 10.94,7.81 11.00,7.88 11.44,7.75 11.75,7.44 11.88,7.00 11.81,6.94 11.81,6.69 11.62,6.38 9.69,4.44 7.75,0.56 6.81,-2.31 6.81,-2.56 6.75,-2.62 6.75,-2.88 6.69,-2.94 6.69,-3.19 6.62,-3.25 6.62,-3.50 6.56,-3.56 6.56,-3.81 6.50,-3.88 6.50,-4.12 6.44,-4.19 6.44,-4.44 6.38,-4.50 6.38,-4.75 6.31,-4.81 6.31,-5.06 6.25,-5.12 6.25,-5.38 6.19,-5.44 6.19,-5.69 6.12,-5.75 6.12,-6.00 6.06,-6.06 6.06,-6.31 5.88,-7.00 5.88,-11.00 5.94,-11.06 5.94,-11.31 6.00,-11.38 6.00,-11.62 6.06,-11.69 6.06,-11.94 6.12,-12.00 6.12,-12.25 6.19,-12.31 6.19,-12.56 6.25,-12.62 6.25,-12.88 6.31,-12.94 6.31,-13.19 6.38,-13.25 6.38,-13.50 6.44,-13.56 6.44,-13.81 6.50,-13.88 6.88,-15.94 7.75,-18.56 9.69,-22.44 11.62,-24.38 11.81,-24.69 11.81,-24.94 11.88,-25.00 11.75,-25.44 11.44,-25.75Z"/>
<path id="g26" d="M19.31,-7.81 19.06,-7.81 19.00,-7.88 17.00,-7.88 16.94,-7.81 16.62,-7.81 14.62,-6.81 14.19,-6.38 13.19,-4.38 13.19,-4.06 13.12,-4.00 13.12,-2.00 13.19,-1.94 13.19,-1.69 13.38,-1.38 15.38,0.62 15.69,0.81 15.94,0.81 16.00,0.88 18.00,0.88 18.06,0.81 18.38,0.81 20.38,-0.19 20.81,-0.62 21.81,-2.62 21.81,-2.94 21.88,-3.00 21.88,-5.00 21.81,-5.06 21.81,-5.31 21.62,-5.62 19.62,-7.62ZM18.62,-6.12 20.12,-4.62 20.12,-3.19 19.31,-1.62 17.81,-0.88 16.38,-0.88 14.88,-2.38 14.88,-3.81 15.69,-5.38 17.19,-6.12ZM21.44,-21.75 21.00,-21.88 20.94,-21.81 20.62,-21.81 18.56,-20.75 15.94,-19.88 13.06,-19.88 10.44,-20.75 8.38,-21.81 8.06,-21.81 8.00,-21.88 6.00,-21.88 5.94,-21.81 5.62,-21.81 3.62,-20.81 3.19,-20.38 2.19,-18.38 2.19,-18.06 2.12,-18.00 2.12,-16.00 2.19,-15.94 2.19,-15.69 2.38,-15.38 4.38,-13.38 4.69,-13.19 4.94,-13.19 5.00,-13.12 7.00,-13.12 7.06,-13.19 7.38,-13.19 9.38,-14.19 9.81,-14.62 10.81,-16.62 10.81,-16.94 10.88,-17.00 10.88,-18.69 10.94,-18.75 12.62,-18.19 12.94,-18.19 13.00,-18.12 16.00,-18.12 16.06,-18.19 16.38,-18.19 17.56,-18.62 17.75,-18.56 2.31,-0.56 2.12,0.00 2.25,0.44 2.56,0.75 3.00,0.88 3.06,0.81 3.31,0.81 3.69,0.56 21.69,-20.44 21.88,-21.00 21.75,-21.44ZM17.69,-18.62 17.75,-18.69 17.81,-18.62 17.75,-18.56ZM7.62,-20.12 9.12,-18.62 9.12,-17.19 8.31,-15.62 6.81,-14.88 5.38,-14.88 3.88,-16.38 3.88,-17.81 4.69,-19.38 6.19,-20.12Z"/>
<path id="g27" d="M3.00,-25.88 2.56,-25.75 2.25,-25.44 2.12,-25.00 2.19,-24.94 2.19,-24.69 2.38,-24.38 4.31,-22.44 6.25,-18.56 7.19,-15.69 7.19,-15.44 7.25,-15.38 7.25,-15.12 7.31,-15.06 7.31,-14.81 7.38,-14.75 7.38,-14.50 7.44,-14.44 7.44,-14.19 7.50,-14.12 7.50,-13.88 7.56,-13.81 7.56,-13.56 7.62,-13.50 7.62,-13.25 7.69,-13.19 7.69,-12.94 7.75,-12.88 7.75,-12.62 7.81,-12.56 7.81,-12.31 7.88,-12.25 7.88,-12.00 7.94,-11.94 7.94,-11.69 8.12,-11.00 8.12,-7.00 8.06,-6.94 8.06,-6.69 8.00,-6.62 8.00,-6.38 7.94,-6.31 7.94,-6.06 7.88,-6.00 7.88,-5.75 7.81,-5.69 7.81,-5.44 7.75,-5.38 7.75,-5.12 7.69,-5.06 7.69,-4.81 7.62,-4.75 7.62,-4.50 7.56,-4.44 7.56,-4.19 7.50,-4.12 7.12,-2.06 6.25,0.56 4.31,4.44 2.38,6.38 2.19,6.69 2.19,6.94 2.12,7.00 2.25,7.44 2.56,7.75 3.00,7.88 3.06,7.81 3.31,7.81 3.62,7.62 5.75,5.50 7.75,2.50 9.81,-1.62 9.94,-2.31 10.00,-2.38 10.00,-2.62 10.06,-2.69 10.06,-2.94 10.12,-3.00 10.12,-3.25 10.19,-3.31 10.19,-3.56 10.25,-3.62 10.25,-3.88 10.31,-3.94 10.31,-4.19 10.38,-4.25 10.38,-4.50 10.44,-4.56 10.44,-4.81 10.50,-4.88 10.50,-5.12 10.56,-5.19 10.56,-5.44 10.62,-5.50 10.62,-5.75 10.69,-5.81 10.69,-6.06 10.75,-6.12 10.75,-6.38 10.81,-6.44 10.81,-6.69 10.88,-6.75 10.81,-6.88 10.88,-7.00 10.88,-11.00 10.81,-11.06 10.88,-11.25 10.81,-11.31 10.81,-11.56 10.75,-11.62 10.75,-11.88 10.69,-11.94 10.69,-12.19 10.62,-12.25 10.62,-12.50 10.56,-12.56 10.56,-12.81 10.50,-12.88 10.50,-13.12 10.44,-13.19 10.44,-13.44 10.38,-13.50 10.38,-13.75 10.31,-13.81 10.31,-14.06 10.25,-14.12 10.25,-14.38 10.19,-14.44 10.19,-14.69 10.12,-14.75 10.12,-15.00 10.06,-15.06 10.06,-15.31 10.00,-15.38 10.00,-15.62 9.94,-15.69 9.81,-16.38 7.75,-20.50 5.75,-23.50 3.62,-25.62 3.31,-25.81 3.06,-25.81Z"/>
<path id="g28" d="M1.56,-21.75 1.25,-21.44 1.12,-21.00 1.25,-20.56 1.56,-20.25 2.00,-20.12 4.06,-20.12 4.12,-20.06 4.12,-0.94 4.06,-0.88 2.00,-0.88 1.94,-0.81 1.69,-0.81 1.19,-0.31 1.19,-0.06 1.12,0.00 1.25,0.44 1.56,0.75 2.00,0.88 9.00,0.88 9.44,0.75 9.75,0.44 9.88,0.00 9.81,-0.06 9.81,-0.31 9.31,-0.81 9.06,-0.81 9.00,-0.88 6.94,-0.88 6.88,-0.94 6.88,-10.06 6.94,-10.12 10.81,-10.12 12.38,-9.31 13.19,-7.69 13.31,-7.12 13.44,-6.88 13.44,-6.69 13.56,-6.44 13.56,-6.25 13.69,-6.00 13.69,-5.81 13.81,-5.56 13.81,-5.38 13.94,-5.12 13.94,-4.94 14.06,-4.69 14.06,-4.50 14.19,-4.25 14.19,-4.06 14.31,-3.81 14.31,-3.62 14.44,-3.38 14.44,-3.19 14.56,-2.94 14.56,-2.75 14.69,-2.50 14.69,-2.31 14.81,-2.06 14.81,-1.88 14.94,-1.62 14.94,-1.44 15.06,-1.19 15.06,-1.00 15.38,-0.38 16.38,0.62 16.69,0.81 16.94,0.81 17.00,0.88 19.00,0.88 19.44,0.75 19.81,0.38 20.81,-1.62 20.81,-1.94 20.88,-2.00 20.88,-3.00 20.81,-3.06 20.81,-3.31 20.31,-3.81 20.06,-3.81 20.00,-3.88 19.56,-3.75 19.19,-3.31 19.12,-2.38 18.62,-1.88 18.38,-1.88 17.75,-2.50 17.00,-4.19 17.00,-4.31 16.81,-4.62 16.81,-4.75 16.62,-5.06 16.62,-5.19 16.44,-5.50 16.44,-5.62 16.25,-5.94 16.25,-6.06 16.06,-6.38 16.06,-6.50 15.88,-6.81 15.88,-6.94 15.69,-7.25 15.69,-7.38 15.50,-7.69 15.50,-7.81 15.31,-8.12 15.31,-8.25 15.12,-8.56 15.12,-8.69 14.94,-9.00 14.94,-9.12 14.62,-9.62 14.12,-10.12 17.19,-11.12 17.62,-11.38 18.81,-12.62 19.81,-14.62 19.81,-14.94 19.88,-15.00 19.88,-17.00 19.81,-17.06 19.81,-17.38 18.81,-19.38 18.62,-19.62 17.62,-20.62 17.19,-20.88 14.38,-21.81 14.06,-21.81 14.00,-21.88 2.00,-21.88ZM6.88,-20.06 6.94,-20.12 13.81,-20.12 15.44,-19.31 16.31,-18.44 17.12,-16.81 17.12,-15.19 16.31,-13.56 15.44,-12.69 13.81,-11.88 6.94,-11.88 6.88,-11.94Z"/>
<path id="g29" d="M1.69,-21.81 1.25,-21.44 1.12,-21.00 1.25,-20.56 1.56,-20.25 2.00,-20.12 4.06,-20.12 4.12,-20.06 4.12,-0.94 4.06,-0.88 2.00,-0.88 1.94,-0.81 1.69,-0.81 1.19,-0.31 1.19,-0.06 1.12,0.00 1.19,0.06 1.19,0.31 1.56,0.75 2.00,0.88 9.00,0.88 9.06,0.81 9.31,0.81 9.75,0.44 9.88,0.00 9.75,-0.44 9.44,-0.75 9.00,-0.88 6.94,-0.88 6.88,-0.94 6.88,-9.06 6.94,-9.12 14.00,-9.12 14.06,-9.19 14.38,-9.19 17.44,-10.25 18.81,-11.62 19.81,-13.62 19.81,-13.94 19.88,-14.00 19.88,-17.00 19.81,-17.06 19.81,-17.38 18.81,-19.38 17.62,-20.62 17.19,-20.88 14.38,-21.81 14.06,-21.81 14.00,-21.88 2.00,-21.88 1.94,-21.81ZM6.88,-20.06 6.94,-20.12 13.81,-20.12 15.44,-19.31 16.31,-18.44 17.12,-16.81 17.12,-14.19 16.31,-12.56 15.44,-11.69 13.81,-10.88 6.94,-10.88 6.88,-10.94Z"/>
<path id="g30" d="M7.62,-14.81 5.62,-13.81 5.38,-13.62 4.19,-12.38 3.19,-10.38 3.19,-10.06 3.12,-10.00 3.12,-8.00 3.19,-7.94 3.19,-7.62 3.94,-6.19 3.19,-5.38 2.19,-3.38 2.19,-3.06 2.12,-3.00 2.12,-2.00 2.19,-1.94 2.19,-1.62 3.00,-0.06 3.00,0.06 2.56,0.25 2.19,0.62 1.19,2.62 1.19,2.94 1.12,3.00 1.12,4.00 1.19,4.06 1.19,4.38 2.19,6.38 2.56,6.75 5.62,7.81 5.94,7.81 6.00,7.88 12.00,7.88 12.06,7.81 12.38,7.81 15.44,6.75 15.81,6.38 16.81,4.38 16.81,4.06 16.88,4.00 16.88,3.00 16.81,2.94 16.81,2.62 15.81,0.62 15.44,0.25 15.19,0.12 12.38,-0.81 12.06,-0.81 12.00,-0.88 7.06,-0.88 4.50,-1.75 3.88,-2.38 3.88,-2.81 4.69,-4.44 5.00,-4.75 5.62,-4.19 7.62,-3.19 7.94,-3.19 8.00,-3.12 10.00,-3.12 10.06,-3.19 10.38,-3.19 12.38,-4.19 12.62,-4.38 13.81,-5.62 14.81,-7.62 14.81,-7.94 14.88,-8.00 14.88,-10.00 14.81,-10.06 14.81,-10.38 14.06,-11.81 14.38,-12.12 16.00,-12.12 16.44,-12.25 16.75,-12.56 16.88,-13.00 16.88,-14.00 16.81,-14.06 16.81,-14.31 16.31,-14.81 16.06,-14.81 16.00,-14.88 15.94,-14.81 15.62,-14.81 13.62,-13.81 13.00,-13.25 12.38,-13.81 10.38,-14.81 10.06,-14.81 10.00,-14.88 8.00,-14.88 7.94,-14.81ZM2.88,3.19 3.56,1.81 3.69,1.69 5.06,1.25 6.62,1.81 6.94,1.81 7.00,1.88 11.94,1.88 14.50,2.75 15.12,3.38 15.12,3.81 14.44,5.19 14.31,5.31 11.94,6.12 6.06,6.12 3.69,5.31 3.56,5.19 2.88,3.81ZM8.19,-13.12 9.81,-13.12 11.31,-12.38 12.12,-10.81 12.12,-7.19 11.38,-5.69 9.81,-4.88 8.19,-4.88 6.69,-5.62 5.88,-7.19 5.88,-10.81 6.62,-12.31Z"/>
<path id="g31" d="M1.62,-22.38 1.12,-22.12 0.69,-21.56 0.62,-21.06 0.56,-21.00 0.62,-20.94 0.69,-20.44 0.88,-20.12 1.12,-19.88 1.62,-19.62 1.94,-19.62 2.00,-19.56 3.50,-19.56 3.56,-19.50 3.56,-1.50 3.50,-1.44 2.00,-1.44 1.31,-1.25 0.88,-0.88 0.69,-0.56 0.62,-0.06 0.56,0.00 0.62,0.06 0.62,0.38 0.75,0.69 1.12,1.12 1.44,1.31 1.94,1.38 2.00,1.44 9.00,1.44 9.06,1.38 9.38,1.38 9.88,1.12 10.31,0.56 10.38,0.06 10.44,0.00 10.38,-0.06 10.31,-0.56 10.12,-0.88 9.88,-1.12 9.38,-1.38 9.06,-1.38 9.00,-1.44 7.50,-1.44 7.44,-1.50 7.44,-19.50 7.50,-19.56 9.00,-19.56 9.69,-19.75 10.12,-20.12 10.31,-20.44 10.38,-20.94 10.44,-21.00 10.38,-21.06 10.38,-21.38 10.25,-21.69 9.88,-22.12 9.56,-22.31 9.06,-22.38 9.00,-22.44 2.00,-22.44 1.94,-22.38Z"/>
<path id="g32" d="M17.69,-22.25 17.00,-22.44 16.31,-22.25 15.75,-21.69 15.44,-20.75 15.31,-20.69 14.88,-21.12 14.44,-21.38 11.44,-22.38 11.06,-22.38 11.00,-22.44 8.00,-22.44 7.94,-22.38 7.56,-22.38 4.31,-21.25 1.75,-18.69 1.56,-18.00 1.56,-16.00 1.62,-15.94 1.69,-15.38 2.69,-13.38 4.12,-11.88 4.38,-11.69 6.38,-10.69 12.31,-8.75 14.19,-7.81 15.56,-6.44 15.56,-3.56 14.25,-2.25 11.88,-1.44 9.12,-1.44 6.75,-2.25 5.25,-3.75 4.38,-6.44 4.12,-6.88 3.88,-7.12 3.38,-7.38 3.06,-7.38 3.00,-7.44 2.31,-7.25 1.75,-6.69 1.56,-6.00 1.56,0.00 1.75,0.69 2.31,1.25 3.00,1.44 3.69,1.25 4.25,0.69 4.56,-0.25 4.69,-0.31 5.12,0.12 5.56,0.38 8.56,1.38 8.94,1.38 9.00,1.44 12.00,1.44 12.06,1.38 12.44,1.38 15.69,0.25 18.25,-2.31 18.44,-3.00 18.44,-7.00 18.38,-7.06 18.31,-7.62 17.31,-9.62 17.12,-9.88 15.62,-11.31 13.62,-12.31 7.69,-14.25 5.81,-15.19 4.44,-16.56 4.44,-17.44 5.88,-18.81 8.12,-19.56 10.88,-19.56 13.25,-18.75 14.75,-17.25 15.62,-14.56 15.88,-14.12 16.12,-13.88 16.62,-13.62 16.94,-13.62 17.00,-13.56 17.06,-13.62 17.56,-13.69 18.12,-14.12 18.31,-14.44 18.38,-14.94 18.44,-15.00 18.44,-21.00 18.25,-21.69Z"/>
<path id="g33" d="M1.12,-22.12 0.75,-21.69 0.56,-21.00 0.62,-20.94 0.69,-20.44 0.88,-20.12 1.12,-19.88 1.62,-19.62 1.94,-19.62 2.00,-19.56 3.50,-19.56 3.56,-19.50 3.56,-1.50 3.50,-1.44 2.00,-1.44 1.94,-1.38 1.44,-1.31 1.12,-1.12 0.75,-0.69 0.56,0.00 0.62,0.06 0.69,0.56 0.88,0.88 1.31,1.25 2.00,1.44 8.00,1.44 8.69,1.25 9.12,0.88 9.31,0.56 9.38,0.06 9.44,0.00 9.38,-0.06 9.38,-0.38 9.25,-0.69 8.88,-1.12 8.56,-1.31 8.06,-1.38 8.00,-1.44 6.50,-1.44 6.44,-1.50 6.44,-11.88 6.50,-11.94 10.62,0.44 10.88,0.88 11.12,1.12 11.62,1.38 11.94,1.38 12.00,1.44 12.06,1.38 12.38,1.38 12.88,1.12 13.12,0.88 13.38,0.44 17.50,-11.94 17.56,-11.88 17.56,-1.50 17.50,-1.44 16.00,-1.44 15.94,-1.38 15.44,-1.31 15.12,-1.12 14.88,-0.88 14.62,-0.38 14.62,-0.06 14.56,0.00 14.62,0.06 14.69,0.56 15.12,1.12 15.44,1.31 15.94,1.38 16.00,1.44 23.00,1.44 23.06,1.38 23.56,1.31 23.88,1.12 24.25,0.69 24.44,0.00 24.38,-0.06 24.31,-0.56 24.12,-0.88 23.88,-1.12 23.38,-1.38 23.06,-1.38 23.00,-1.44 21.50,-1.44 21.44,-1.50 21.44,-19.50 21.50,-19.56 23.00,-19.56 23.06,-19.62 23.56,-19.69 23.88,-19.88 24.25,-20.31 24.44,-21.00 24.38,-21.06 24.31,-21.56 24.12,-21.88 23.69,-22.25 23.00,-22.44 19.00,-22.44 18.94,-22.38 18.44,-22.31 17.88,-21.88 17.62,-21.44 12.50,-6.06 7.38,-21.44 7.12,-21.88 6.69,-22.25 6.00,-22.44 2.00,-22.44 1.94,-22.38 1.44,-22.31Z"/>
<path id="g34" d="M3.12,-6.00 3.25,-5.56 3.56,-5.25 4.00,-5.12 22.00,-5.12 22.44,-5.25 22.75,-5.56 22.88,-6.00 22.75,-6.44 22.44,-6.75 22.00,-6.88 4.00,-6.88 3.56,-6.75 3.25,-6.44ZM3.12,-12.00 3.25,-11.56 3.56,-11.25 4.00,-11.12 22.00,-11.12 22.44,-11.25 22.75,-11.56 22.88,-12.00 22.75,-12.44 22.44,-12.75 22.00,-12.88 4.00,-12.88 3.56,-12.75 3.25,-12.44Z"/>
<path id="g35" d="M0.69,-14.56 0.62,-14.06 0.56,-14.00 0.62,-13.94 0.62,-13.62 0.75,-13.31 1.12,-12.88 1.44,-12.69 1.94,-12.62 2.00,-12.56 3.50,-12.56 3.56,-12.50 3.56,-1.50 3.50,-1.44 2.00,-1.44 1.94,-1.38 1.62,-1.38 1.31,-1.25 0.88,-0.88 0.62,-0.38 0.62,-0.06 0.56,0.00 0.62,0.06 0.62,0.38 0.88,0.88 1.44,1.31 1.94,1.38 2.00,1.44 9.00,1.44 9.06,1.38 9.56,1.31 10.12,0.88 10.31,0.56 10.38,0.06 10.44,0.00 10.38,-0.06 10.31,-0.56 9.88,-1.12 9.56,-1.31 9.06,-1.38 9.00,-1.44 7.50,-1.44 7.44,-1.50 7.44,-10.44 8.75,-11.75 11.12,-12.56 12.69,-12.56 13.81,-12.00 14.00,-11.81 14.56,-10.69 14.56,-1.50 14.50,-1.44 13.00,-1.44 12.94,-1.38 12.62,-1.38 12.31,-1.25 11.88,-0.88 11.62,-0.38 11.62,-0.06 11.56,0.00 11.62,0.06 11.62,0.38 11.88,0.88 12.31,1.25 13.00,1.44 20.00,1.44 20.06,1.38 20.56,1.31 21.12,0.88 21.31,0.56 21.38,0.06 21.44,0.00 21.38,-0.06 21.31,-0.56 20.88,-1.12 20.56,-1.31 20.06,-1.38 20.00,-1.44 18.50,-1.44 18.44,-1.50 18.44,-10.44 19.75,-11.75 22.12,-12.56 23.69,-12.56 24.81,-12.00 25.00,-11.81 25.56,-10.69 25.56,-1.50 25.50,-1.44 24.00,-1.44 23.94,-1.38 23.44,-1.31 23.12,-1.12 22.75,-0.69 22.56,0.00 22.62,0.06 22.69,0.56 22.88,0.88 23.31,1.25 24.00,1.44 31.00,1.44 31.69,1.25 32.12,0.88 32.31,0.56 32.38,0.06 32.44,0.00 32.38,-0.06 32.38,-0.38 32.25,-0.69 31.88,-1.12 31.56,-1.31 31.06,-1.38 31.00,-1.44 29.50,-1.44 29.44,-1.50 29.44,-11.00 29.38,-11.06 29.31,-11.62 28.31,-13.62 27.88,-14.12 27.44,-14.38 24.44,-15.38 24.06,-15.38 24.00,-15.44 22.00,-15.44 21.94,-15.38 21.56,-15.38 18.56,-14.38 18.12,-14.12 17.44,-13.44 16.88,-14.12 16.44,-14.38 13.44,-15.38 13.06,-15.38 13.00,-15.44 11.00,-15.44 10.94,-15.38 10.56,-15.38 7.50,-14.31 7.31,-14.44 7.25,-14.69 6.88,-15.12 6.38,-15.38 6.06,-15.38 6.00,-15.44 2.00,-15.44 1.31,-15.25 0.88,-14.88Z"/>
<path id="g36" d="M2.88,-12.88 2.69,-12.56 2.62,-12.06 2.56,-12.00 2.56,-11.00 2.62,-10.94 2.69,-10.44 3.12,-9.88 3.44,-9.69 3.94,-9.62 4.00,-9.56 5.00,-9.56 5.06,-9.62 5.56,-9.69 5.88,-9.88 6.12,-10.12 6.38,-10.62 6.38,-10.94 6.44,-11.00 6.44,-12.00 6.38,-12.06 7.31,-12.56 10.69,-12.56 12.19,-11.81 12.56,-11.44 12.56,-10.56 12.25,-10.31 11.94,-10.31 11.88,-10.25 11.56,-10.25 11.50,-10.19 11.19,-10.19 11.12,-10.12 10.81,-10.12 10.75,-10.06 10.44,-10.06 10.38,-10.00 10.06,-10.00 10.00,-9.94 9.69,-9.94 9.62,-9.88 9.31,-9.88 9.25,-9.81 8.94,-9.81 8.88,-9.75 8.56,-9.75 8.50,-9.69 6.75,-9.44 3.56,-8.38 3.12,-8.12 2.69,-7.62 1.69,-5.62 1.62,-5.06 1.56,-5.00 1.56,-3.00 1.62,-2.94 1.69,-2.38 2.69,-0.38 3.12,0.12 3.56,0.38 6.56,1.38 6.94,1.38 7.00,1.44 10.00,1.44 10.06,1.38 10.62,1.31 12.62,0.31 13.56,-0.56 13.88,-0.12 14.38,0.31 16.38,1.31 16.94,1.38 17.00,1.44 18.00,1.44 18.06,1.38 18.56,1.31 19.12,0.88 19.31,0.56 19.38,0.06 19.44,0.00 19.25,-0.69 18.88,-1.12 18.56,-1.31 18.06,-1.38 18.00,-1.44 17.56,-1.44 17.19,-1.81 16.44,-3.31 16.44,-10.00 16.38,-10.06 16.38,-10.38 16.31,-10.44 16.31,-10.62 15.31,-12.62 13.88,-14.12 13.62,-14.31 11.62,-15.31 11.44,-15.31 11.38,-15.38 11.06,-15.38 11.00,-15.44 7.00,-15.44 6.94,-15.38 6.38,-15.31 4.38,-14.31ZM12.56,-7.38 12.56,-3.56 11.19,-2.19 9.69,-1.44 7.31,-1.44 6.19,-2.00 6.00,-2.19 5.44,-3.31 5.44,-4.69 6.00,-5.81 6.19,-6.00 7.44,-6.62 9.19,-6.88 9.25,-6.94 9.56,-6.94 9.62,-7.00 9.94,-7.00 10.00,-7.06 10.31,-7.06 10.38,-7.12 10.69,-7.12 10.75,-7.19 11.06,-7.19 11.12,-7.25 11.44,-7.25 11.50,-7.31 11.81,-7.31 11.88,-7.38 12.19,-7.38 12.25,-7.44 12.50,-7.44Z"/>
<path id="g37" d="M0.88,-14.88 0.69,-14.56 0.62,-14.06 0.56,-14.00 0.62,-13.94 0.69,-13.44 0.88,-13.12 1.12,-12.88 1.62,-12.62 1.94,-12.62 2.00,-12.56 3.31,-12.56 7.88,-6.75 3.31,-1.44 2.00,-1.44 1.94,-1.38 1.62,-1.38 1.31,-1.25 0.88,-0.88 0.69,-0.56 0.62,-0.06 0.56,0.00 0.62,0.06 0.69,0.56 1.12,1.12 1.44,1.31 1.94,1.38 2.00,1.44 8.00,1.44 8.69,1.25 9.12,0.88 9.38,0.38 9.38,0.06 9.44,0.00 9.25,-0.69 8.88,-1.12 8.56,-1.31 8.06,-1.38 8.00,-1.44 7.25,-1.44 7.19,-1.50 9.69,-4.44 12.00,-1.50 11.94,-1.38 11.62,-1.38 11.12,-1.12 10.88,-0.88 10.62,-0.38 10.62,-0.06 10.56,0.00 10.62,0.06 10.69,0.56 10.88,0.88 11.31,1.25 12.00,1.44 18.00,1.44 18.06,1.38 18.56,1.31 19.12,0.88 19.31,0.56 19.38,0.06 19.44,0.00 19.38,-0.06 19.31,-0.56 19.12,-0.88 18.88,-1.12 18.38,-1.38 18.06,-1.38 18.00,-1.44 16.69,-1.44 12.12,-7.25 16.69,-12.56 18.00,-12.56 18.06,-12.62 18.38,-12.62 18.69,-12.75 19.12,-13.12 19.31,-13.44 19.38,-13.94 19.44,-14.00 19.38,-14.06 19.31,-14.56 18.88,-15.12 18.56,-15.31 18.06,-15.38 18.00,-15.44 12.00,-15.44 11.31,-15.25 10.88,-14.88 10.62,-14.38 10.62,-14.06 10.56,-14.00 10.75,-13.31 11.12,-12.88 11.44,-12.69 11.94,-12.62 12.00,-12.56 12.75,-12.56 12.81,-12.50 10.31,-9.56 8.00,-12.50 8.06,-12.62 8.38,-12.62 8.88,-12.88 9.12,-13.12 9.38,-13.62 9.38,-13.94 9.44,-14.00 9.38,-14.06 9.31,-14.56 9.12,-14.88 8.69,-15.25 8.00,-15.44 2.00,-15.44 1.94,-15.38 1.44,-15.31Z"/>
<path id="g38" d="M5.00,-3.44 4.94,-3.38 4.44,-3.31 4.12,-3.12 2.88,-1.88 2.69,-1.56 2.62,-1.06 2.56,-1.00 2.62,-0.94 2.69,-0.44 2.88,-0.12 4.25,1.19 4.25,1.31 3.81,2.19 2.75,3.31 2.56,4.00 2.62,4.06 2.69,4.56 2.88,4.88 3.31,5.25 4.00,5.44 4.06,5.38 4.56,5.31 4.88,5.12 6.12,3.88 6.31,3.62 7.31,1.62 7.38,1.06 7.44,1.00 7.44,-1.00 7.25,-1.69 5.88,-3.12 5.56,-3.31 5.06,-3.38Z"/>
<path id="g39" d="M10.00,-22.44 9.94,-22.38 9.56,-22.38 6.31,-21.25 3.69,-18.62 2.69,-16.62 2.69,-16.44 2.56,-16.31 2.56,-16.12 1.62,-12.56 1.62,-12.06 1.56,-12.00 1.56,-9.00 1.62,-8.94 1.62,-8.44 1.69,-8.38 2.56,-4.69 2.69,-4.56 2.69,-4.38 3.69,-2.38 3.88,-2.12 6.12,0.12 6.56,0.38 9.56,1.38 9.94,1.38 10.00,1.44 12.00,1.44 12.06,1.38 12.44,1.38 15.69,0.25 18.31,-2.38 19.31,-4.38 19.31,-4.56 19.44,-4.69 19.44,-4.88 20.38,-8.44 20.38,-8.94 20.44,-9.00 20.44,-12.00 20.38,-12.06 20.38,-12.56 20.31,-12.62 19.44,-16.31 19.31,-16.44 19.31,-16.62 18.31,-18.62 18.12,-18.88 15.88,-21.12 15.44,-21.38 12.44,-22.38 12.06,-22.38 12.00,-22.44ZM10.31,-19.56 11.69,-19.56 13.19,-18.81 14.81,-17.19 15.69,-15.38 15.69,-15.19 16.56,-11.88 16.56,-9.12 16.50,-9.06 15.62,-5.44 14.81,-3.81 13.19,-2.19 11.69,-1.44 10.31,-1.44 8.81,-2.19 7.19,-3.81 6.31,-5.62 6.31,-5.81 5.44,-9.12 5.44,-11.88 5.50,-11.94 6.38,-15.56 7.19,-17.19 8.81,-18.81Z"/>
<path id="g40" d="M1.31,-22.25 0.75,-21.69 0.56,-21.00 0.56,-15.00 0.75,-14.31 1.12,-13.88 1.44,-13.69 1.94,-13.62 2.00,-13.56 2.06,-13.62 2.56,-13.69 2.88,-13.88 3.31,-14.44 3.50,-15.06 3.50,-15.38 3.56,-15.44 3.56,-15.75 3.62,-15.81 3.62,-16.12 3.69,-16.19 3.69,-16.50 3.75,-16.56 3.75,-16.88 3.81,-16.94 3.81,-17.25 3.88,-17.31 3.88,-17.62 3.94,-17.69 3.94,-18.00 4.00,-18.06 4.00,-18.38 4.06,-18.44 4.06,-18.75 4.12,-18.81 4.12,-19.12 4.25,-19.56 7.50,-19.56 7.56,-19.50 7.56,-1.50 7.50,-1.44 6.00,-1.44 5.94,-1.38 5.44,-1.31 5.12,-1.12 4.88,-0.88 4.62,-0.38 4.62,-0.06 4.56,0.00 4.75,0.69 5.31,1.25 6.00,1.44 13.00,1.44 13.69,1.25 14.12,0.88 14.38,0.38 14.38,0.06 14.44,0.00 14.38,-0.06 14.38,-0.38 14.12,-0.88 13.88,-1.12 13.38,-1.38 13.06,-1.38 13.00,-1.44 11.50,-1.44 11.44,-1.50 11.44,-19.50 11.50,-19.56 14.75,-19.56 14.81,-19.50 14.81,-19.19 14.88,-19.12 14.88,-18.81 14.94,-18.75 14.94,-18.44 15.00,-18.38 15.00,-18.06 15.06,-18.00 15.06,-17.69 15.12,-17.62 15.12,-17.31 15.19,-17.25 15.50,-15.06 15.69,-14.44 15.88,-14.12 16.44,-13.69 16.94,-13.62 17.00,-13.56 17.06,-13.62 17.38,-13.62 17.69,-13.75 18.12,-14.12 18.31,-14.44 18.38,-14.94 18.44,-15.00 18.44,-21.00 18.25,-21.69 17.69,-22.25 17.00,-22.44 2.00,-22.44Z"/>
<path id="g41" d="M11.38,-21.81 11.06,-21.81 11.00,-21.88 9.00,-21.88 8.94,-21.81 8.62,-21.81 5.81,-20.88 5.38,-20.62 3.25,-18.44 2.19,-15.38 2.19,-15.06 2.12,-15.00 2.12,-14.00 2.19,-13.94 2.19,-13.62 3.12,-10.81 3.38,-10.38 5.38,-8.38 5.81,-8.12 8.62,-7.19 8.94,-7.19 9.00,-7.12 10.00,-7.12 10.06,-7.19 10.38,-7.19 13.44,-8.25 15.06,-9.81 15.12,-9.75 15.12,-9.00 15.06,-8.94 14.25,-5.50 13.31,-3.56 11.44,-1.69 9.81,-0.88 7.19,-0.88 5.62,-1.69 5.38,-2.19 6.62,-3.38 6.81,-3.69 6.81,-3.94 6.88,-4.00 6.81,-4.06 6.81,-4.31 6.62,-4.62 5.44,-5.75 5.00,-5.88 4.56,-5.75 3.38,-4.62 3.19,-4.31 3.19,-4.06 3.12,-4.00 3.12,-3.00 3.19,-2.94 3.19,-2.62 4.19,-0.62 4.62,-0.19 6.62,0.81 6.94,0.81 7.00,0.88 10.00,0.88 10.06,0.81 10.38,0.81 13.19,-0.12 13.62,-0.38 15.81,-2.62 16.81,-4.62 17.81,-8.75 17.88,-8.81 17.81,-8.88 17.88,-9.00 17.88,-15.00 17.81,-15.06 17.81,-15.38 16.88,-18.19 16.62,-18.62 14.44,-20.75ZM10.81,-20.12 12.44,-19.31 14.25,-17.50 15.12,-14.94 15.12,-14.06 14.25,-11.50 12.50,-9.75 9.94,-8.88 9.19,-8.88 7.56,-9.69 5.75,-11.50 4.88,-14.06 4.88,-14.94 5.75,-17.50 7.56,-19.31 9.19,-20.12Z"/>
<path id="g42" d="M3.12,-9.00 3.25,-8.56 3.56,-8.25 4.00,-8.12 22.00,-8.12 22.44,-8.25 22.75,-8.56 22.88,-9.00 22.75,-9.44 22.44,-9.75 22.00,-9.88 4.00,-9.88 3.56,-9.75 3.25,-9.44Z"/>
<path id="g43" d="M9.00,-15.44 8.94,-15.38 8.56,-15.38 5.31,-14.25 2.88,-11.88 2.62,-11.44 1.62,-8.44 1.62,-8.06 1.56,-8.00 1.56,-6.00 1.62,-5.94 1.62,-5.56 2.75,-2.31 5.12,0.12 5.56,0.38 8.56,1.38 8.94,1.38 9.00,1.44 11.00,1.44 11.06,1.38 11.44,1.38 14.69,0.25 17.12,-2.12 17.38,-2.56 18.38,-5.56 18.38,-5.94 18.44,-6.00 18.44,-8.00 18.38,-8.06 18.38,-8.44 17.25,-11.69 14.88,-14.12 14.44,-14.38 11.44,-15.38 11.06,-15.38 11.00,-15.44ZM9.31,-12.56 10.69,-12.56 12.19,-11.81 13.75,-10.25 14.56,-7.88 14.56,-6.12 13.75,-3.75 12.19,-2.19 10.69,-1.44 9.31,-1.44 7.81,-2.19 6.25,-3.75 5.44,-6.12 5.44,-7.88 6.25,-10.25 7.81,-11.81Z"/></defs>
<g fill="none" stroke="#000" stroke-width="2" stroke-linecap="square">
<path d="M90.9,2.3 H828.5 V696.7 H90.9 Z M90.9,349.6 H828.5"/>
</g>
<path d="M90.9,332.2 h7.3 M828.5,332.2 h-7.3 M90.9,314.9 h7.3 M828.5,314.9 h-7.3 M90.9,297.5 h7.3 M828.5,297.5 h-7.3 M90.9,280.1 h14.2 M828.5,280.1 h-14.2 M90.9,262.8 h7.3 M828.5,262.8 h-7.3 M90.9,245.4 h7.3 M828.5,245.4 h-7.3 M90.9,228.0 h7.3 M828.5,228.0 h-7.3 M90.9,210.7 h14.2 M828.5,210.7 h-14.2 M90.9,193.3 h7.3 M828.5,193.3 h-7.3 M90.9,175.9 h7.3 M828.5,175.9 h-7.3 M90.9,158.6 h7.3 M828.5,158.6 h-7.3 M90.9,141.2 h14.2 M828.5,141.2 h-14.2 M90.9,123.9 h7.3 M828.5,123.9 h-7.3 M90.9,106.5 h7.3 M828.5,106.5 h-7.3 M90.9,89.1 h7.3 M828.5,89.1 h-7.3 M90.9,71.8 h14.2 M828.5,71.8 h-14.2 M90.9,54.4 h7.3 M828.5,54.4 h-7.3 M90.9,37.0 h7.3 M828.5,37.0 h-7.3 M90.9,19.7 h7.3 M828.5,19.7 h-7.3 M90.9,679.3 h14.2 M828.5,679.3 h-14.2 M90.9,662.0 h7.3 M828.5,662.0 h-7.3 M90.9,644.6 h7.3 M828.5,644.6 h-7.3 M90.9,627.3 h7.3 M828.5,627.3 h-7.3 M90.9,609.9 h7.3 M828.5,609.9 h-7.3 M90.9,592.6 h14.2 M828.5,592.6 h-14.2 M90.9,575.2 h7.3 M828.5,575.2 h-7.3 M90.9,557.9 h7.3 M828.5,557.9 h-7.3 M90.9,540.5 h7.3 M828.5,540.5 h-7.3 M90.9,523.2 h7.3 M828.5,523.2 h-7.3 M90.9,505.8 h14.2 M828.5,505.8 h-14.2 M90.9,488.4 h7.3 M828.5,488.4 h-7.3 M90.9,471.1 h7.3 M828.5,471.1 h-7.3 M90.9,453.7 h7.3 M828.5,453.7 h-7.3 M90.9,436.4 h7.3 M828.5,436.4 h-7.3 M90.9,419.0 h14.2 M828.5,419.0 h-14.2 M90.9,401.7 h7.3 M828.5,401.7 h-7.3 M90.9,384.3 h7.3 M828.5,384.3 h-7.3 M90.9,367.0 h7.3 M828.5,367.0 h-7.3 M142.5,2.3 v3.4 M142.5,346.2 v6.8 M142.5,696.7 v-3.4 M172.7,2.3 v3.4 M172.7,346.2 v6.8 M172.7,696.7 v-3.4 M194.1,2.3 v3.4 M194.1,346.2 v6.8 M194.1,696.7 v-3.4 M210.8,2.3 v3.4 M210.8,346.2 v6.8 M210.8,696.7 v-3.4 M224.3,2.3 v3.4 M224.3,346.2 v6.8 M224.3,696.7 v-3.4 M235.8,2.3 v3.4 M235.8,346.2 v6.8 M235.8,696.7 v-3.4 M245.8,2.3 v3.4 M245.8,346.2 v6.8 M245.8,696.7 v-3.4 M254.5,2.3 v3.4 M254.5,346.2 v6.8 M254.5,696.7 v-3.4 M262.4,2.3 v6.8 M262.4,342.8 v13.6 M262.4,696.7 v-6.8 M314.0,2.3 v3.4 M314.0,346.2 v6.8 M314.0,696.7 v-3.4 M344.2,2.3 v3.4 M344.2,346.2 v6.8 M344.2,696.7 v-3.4 M365.6,2.3 v3.4 M365.6,346.2 v6.8 M365.6,696.7 v-3.4 M382.3,2.3 v3.4 M382.3,346.2 v6.8 M382.3,696.7 v-3.4 M395.8,2.3 v3.4 M395.8,346.2 v6.8 M395.8,696.7 v-3.4 M407.3,2.3 v3.4 M407.3,346.2 v6.8 M407.3,696.7 v-3.4 M417.3,2.3 v3.4 M417.3,346.2 v6.8 M417.3,696.7 v-3.4 M426.0,2.3 v3.4 M426.0,346.2 v6.8 M426.0,696.7 v-3.4 M433.9,2.3 v6.8 M433.9,342.8 v13.6 M433.9,696.7 v-6.8 M485.5,2.3 v3.4 M485.5,346.2 v6.8 M485.5,696.7 v-3.4 M515.7,2.3 v3.4 M515.7,346.2 v6.8 M515.7,696.7 v-3.4 M537.1,2.3 v3.4 M537.1,346.2 v6.8 M537.1,696.7 v-3.4 M553.8,2.3 v3.4 M553.8,346.2 v6.8 M553.8,696.7 v-3.4 M567.3,2.3 v3.4 M567.3,346.2 v6.8 M567.3,696.7 v-3.4 M578.8,2.3 v3.4 M578.8,346.2 v6.8 M578.8,696.7 v-3.4 M588.8,2.3 v3.4 M588.8,346.2 v6.8 M588.8,696.7 v-3.4 M597.5,2.3 v3.4 M597.5,346.2 v6.8 M597.5,696.7 v-3.4 M605.4,2.3 v6.8 M605.4,342.8 v13.6 M605.4,696.7 v-6.8 M657.0,2.3 v3.4 M657.0,346.2 v6.8 M657.0,696.7 v-3.4 M687.2,2.3 v3.4 M687.2,346.2 v6.8 M687.2,696.7 v-3.4 M708.6,2.3 v3.4 M708.6,346.2 v6.8 M708.6,696.7 v-3.4 M725.3,2.3 v3.4 M725.3,346.2 v6.8 M725.3,696.7 v-3.4 M738.8,2.3 v3.4 M738.8,346.2 v6.8 M738.8,696.7 v-3.4 M750.3,2.3 v3.4 M750.3,346.2 v6.8 M750.3,696.7 v-3.4 M760.3,2.3 v3.4 M760.3,346.2 v6.8 M760.3,696.7 v-3.4 M769.0,2.3 v3.4 M769.0,346.2 v6.8 M769.0,696.7 v-3.4 M776.9,2.3 v6.8 M776.9,342.8 v13.6 M776.9,696.7 v-6.8" fill="none" stroke="#000" stroke-width="1.7"/>
<g fill="none" stroke-width="2" stroke-linejoin="round">
<path d="M90.9,349.6 L97.8,349.6 L106.3,349.6 L114.9,349.6 L123.5,349.6 L132.1,349.6 L140.6,349.6 L149.2,349.6 L157.8,349.6 L166.4,349.6 L174.9,349.6 L183.5,349.4 L192.1,349.2 L200.7,348.5 L209.2,347.5 L217.8,345.8 L226.4,342.6 L234.9,338.8 L243.5,333.2 L252.1,325.9 L260.7,317.1 L269.2,307.2 L277.8,298.1 L286.4,290.7 L295.0,285.0 L303.5,281.8 L312.1,280.1 L320.7,279.5 L329.3,280.8 L337.8,283.6 L346.4,288.4 L355.0,294.1 L363.6,301.1 L372.1,309.0 L380.7,318.2 L389.3,329.5 L397.8,340.6 L406.4,345.6 L415.0,331.7 L423.6,317.1 L432.1,301.7 L440.7,285.7 L449.3,269.6 L457.9,252.9 L466.4,235.5 L475.0,218.5 L483.6,201.3 L492.2,186.4 L500.7,176.5 L509.3,170.1 L517.9,169.3 L526.4,174.0 L535.0,182.4 L543.6,194.6 L552.2,209.2 L560.7,224.9 L569.3,240.6 L577.9,255.2 L586.5,267.5 L595.0,278.2 L603.6,287.0 L612.2,294.5 L620.8,300.9 L629.3,306.3 L637.9,311.0 L646.5,315.0 L655.1,318.4 L663.6,321.4 L672.2,324.0 L680.8,326.2 L689.3,328.2 L697.9,329.9 L706.5,331.4 L715.1,332.7 L723.6,333.9 L732.2,335.0 L740.8,335.9 L749.4,336.7 L757.9,337.5 L766.5,338.2 L775.1,338.8 L783.7,339.3 L792.2,339.9 L800.8,340.3 L809.4,340.8 L817.9,341.2 L826.5,341.6 L828.5,341.7" stroke="#000"/>
<path d="M90.9,679.3 L402.0,679.3 L402.0,523.2 L828.5,523.2" stroke="#000" stroke-linejoin="miter"/>
<path d="M90.9,331.6 L92.4,331.6 L93.9,331.6 L95.4,331.6 L96.9,331.6 L98.4,331.6 L99.9,331.6 L101.4,331.6 L102.9,331.6 L104.4,331.6 L105.9,331.6 L107.4,331.6 L108.9,331.6 L110.4,331.6 L111.9,331.6 L113.4,331.6 L114.9,331.6 L116.4,331.6 L117.9,331.6 L119.4,331.6 L120.9,331.6 L122.4,331.6 L123.9,331.6 L125.4,331.6 L126.9,331.6 L128.4,331.6 L129.9,331.6 L131.4,331.6 L132.9,331.6 L134.4,331.6 L135.9,331.6 L137.4,331.6 L138.9,331.6 L140.4,331.6 L141.9,331.6 L143.4,331.6 L144.9,331.6 L146.4,331.6 L147.9,331.6 L149.4,331.6 L150.9,331.6 L152.4,331.6 L153.9,331.6 L155.4,331.6 L156.9,331.6 L158.4,331.6 L159.9,331.6 L161.4,331.6 L162.9,331.6 L164.4,331.6 L165.9,331.6 L167.4,331.6 L168.9,331.6 L170.4,331.6 L171.9,331.6 L173.4,331.6 L174.9,331.6 L176.4,331.6 L177.9,331.6 L179.4,331.5 L180.9,331.5 L182.4,331.5 L183.9,331.5 L185.4,331.4 L186.9,331.4 L188.4,331.4 L189.9,331.3 L191.4,331.3 L192.9,331.2 L194.4,331.2 L195.9,331.1 L197.4,331.0 L198.9,330.9 L200.4,330.7 L201.9,330.6 L203.4,330.5 L204.9,330.3 L206.4,330.2 L207.9,330.0 L209.4,329.9 L210.9,329.7 L212.4,329.5 L213.9,329.3 L215.4,329.1 L216.9,328.7 L218.4,328.3 L219.9,327.9 L221.4,327.4 L222.9,326.8 L224.4,326.3 L225.9,325.8 L227.4,325.3 L228.9,324.8 L230.4,324.2 L231.9,323.6 L233.4,323.0 L234.9,322.3 L236.4,321.6 L237.9,320.7 L239.4,319.8 L240.9,318.9 L242.4,317.9 L243.9,316.8 L245.4,315.7 L246.9,314.5 L248.4,313.3 L249.9,312.1 L251.4,310.8 L252.9,309.4 L254.4,308.0 L255.9,306.5 L257.4,305.0 L258.9,303.5 L260.4,301.9 L261.9,300.4 L263.4,298.8 L264.9,297.1 L266.4,295.3 L267.9,293.5 L269.4,291.8 L270.9,290.0 L272.4,288.3 L273.9,286.7 L275.4,285.3 L276.9,283.8 L278.4,282.4 L279.9,281.0 L281.4,279.7 L282.9,278.4 L284.4,277.2 L285.9,276.0 L287.4,274.9 L288.9,273.9 L290.4,272.9 L291.9,271.9 L293.4,270.9 L294.9,270.1 L296.4,269.3 L297.9,268.7 L299.4,268.2 L300.9,267.7 L302.4,267.2 L303.9,266.8 L305.4,266.4 L306.9,266.1 L308.4,265.8 L309.9,265.5 L311.4,265.3 L312.9,265.1 L314.4,265.0 L315.9,264.8 L317.4,264.7 L318.9,264.6 L320.4,264.6 L321.9,264.7 L323.4,264.8 L324.9,265.0 L326.4,265.3 L327.9,265.6 L329.4,265.9 L330.9,266.3 L332.4,266.6 L333.9,267.0 L335.4,267.5 L336.9,268.2 L338.4,268.9 L339.9,269.7 L341.4,270.6 L342.9,271.5 L344.4,272.3 L345.9,273.2 L347.4,274.1 L348.9,275.0 L350.4,275.9 L351.9,276.9 L353.4,277.9 L354.9,279.0 L356.4,280.1 L357.9,281.2 L359.4,282.4 L360.9,283.7 L362.4,284.9 L363.9,286.3 L365.4,287.6 L366.9,289.0 L368.4,290.3 L369.9,291.7 L371.4,293.1 L372.9,294.5 L374.4,295.9 L375.9,297.4 L377.4,299.0 L378.9,300.6 L380.4,302.3 L381.9,304.1 L383.4,306.0 L384.9,308.0 L386.4,310.0 L387.9,311.9 L389.4,313.8 L390.9,315.5 L392.4,317.2 L393.9,319.0 L395.4,320.7 L396.9,322.6 L398.4,324.8 L399.9,327.3 L401.4,329.8 L402.9,331.7 L404.4,333.0 L405.9,334.1 L407.4,335.4 L408.9,336.8 L410.4,337.8 L411.9,338.4 L413.4,338.5 L414.9,338.0 L416.4,337.0 L417.9,335.5 L419.4,333.8 L420.9,331.9 L422.4,329.9 L423.9,327.7 L425.4,325.4 L426.9,323.0 L428.4,320.5 L429.9,318.0 L431.4,315.4 L432.9,312.8 L434.4,310.1 L435.9,307.4 L437.4,304.7 L438.9,301.9 L440.4,299.2 L441.9,296.5 L443.4,293.7 L444.9,291.0 L446.4,288.2 L447.9,285.4 L449.4,282.7 L450.9,279.8 L452.4,277.0 L453.9,274.1 L455.4,271.2 L456.9,268.2 L458.4,265.2 L459.9,262.2 L461.4,259.2 L462.9,256.1 L464.4,253.1 L465.9,250.2 L467.4,247.2 L468.9,244.2 L470.4,241.3 L471.9,238.3 L473.4,235.3 L474.9,232.3 L476.4,229.3 L477.9,226.2 L479.4,223.2 L480.9,220.2 L482.4,217.2 L483.9,214.4 L485.4,211.6 L486.9,208.9 L488.4,206.2 L489.9,203.7 L491.4,201.3 L492.9,199.2 L494.4,197.2 L495.9,195.4 L497.4,193.6 L498.9,192.0 L500.4,190.6 L501.9,189.2 L503.4,187.8 L504.9,186.4 L506.4,185.2 L507.9,184.4 L509.4,183.9 L510.9,183.7 L512.4,183.5 L513.9,183.3 L515.4,183.2 L516.9,183.1 L518.4,183.2 L519.9,183.6 L521.4,184.3 L522.9,185.3 L524.4,186.4 L525.9,187.5 L527.4,188.6 L528.9,189.8 L530.4,191.2 L531.9,192.7 L533.4,194.3 L534.9,196.0 L536.4,197.8 L537.9,199.8 L539.4,201.9 L540.9,204.2 L542.4,206.4 L543.9,208.8 L545.4,211.1 L546.9,213.6 L548.4,216.2 L549.9,218.8 L551.4,221.5 L552.9,224.3 L554.4,227.0 L555.9,229.6 L557.4,232.4 L558.9,235.1 L560.4,237.9 L561.9,240.6 L563.4,243.4 L564.9,246.1 L566.4,248.8 L567.9,251.6 L569.4,254.3 L570.9,257.0 L572.4,259.6 L573.9,262.1 L575.4,264.6 L576.9,267.0 L578.4,269.4 L579.9,271.6 L581.4,273.8 L582.9,275.9 L584.4,278.0 L585.9,280.0 L587.4,282.0 L588.9,283.9 L590.4,285.8 L591.9,287.7 L593.4,289.4 L594.9,291.1 L596.4,292.8 L597.9,294.4 L599.4,295.9 L600.9,297.4 L602.4,298.8 L603.9,300.2 L605.4,301.6 L606.9,302.9 L608.4,304.2 L609.9,305.4 L611.4,306.6 L612.9,307.8 L614.4,308.9 L615.9,310.0 L617.4,311.1 L618.9,312.1 L620.4,313.1 L621.9,314.1 L623.4,315.0 L624.9,315.9 L626.4,316.8 L627.9,317.7 L629.4,318.5 L630.9,319.3 L632.4,320.1 L633.9,320.8 L635.4,321.6 L636.9,322.3 L638.4,323.0 L639.9,323.6 L641.4,324.3 L642.9,324.9 L644.4,325.5 L645.9,326.1 L647.4,326.7 L648.9,327.2 L650.4,327.8 L651.9,328.3 L653.4,328.8 L654.9,329.2 L656.4,329.7 L657.9,330.2 L659.4,330.6 L660.9,331.0 L662.4,331.4 L663.9,331.8 L665.4,332.2 L666.9,332.5 L668.4,332.9 L669.9,333.2 L671.4,333.5 L672.9,333.8 L674.4,334.1 L675.9,334.4 L677.4,334.6 L678.9,334.9 L680.4,335.1 L681.9,335.4 L683.4,335.6 L684.9,335.8 L686.4,336.0 L687.9,336.2 L689.4,336.4 L690.9,336.5 L692.4,336.7 L693.9,336.9 L695.4,337.0 L696.9,337.1 L698.4,337.3 L699.9,337.4 L701.4,337.5 L702.9,337.6 L704.4,337.7 L705.9,337.8 L707.4,337.9 L708.9,337.9 L710.4,338.0 L711.9,338.1 L713.4,338.1 L714.9,338.2 L716.4,338.2 L717.9,338.3 L719.4,338.3 L720.9,338.4 L722.4,338.4 L723.9,338.4 L725.4,338.4 L726.9,338.5 L728.4,338.5 L729.9,338.5 L731.4,338.5 L732.9,338.5 L734.4,338.5 L735.9,338.5 L737.4,338.5 L738.9,338.5 L740.4,338.5 L741.9,338.5 L743.4,338.5 L744.9,338.5 L746.4,338.5 L747.9,338.5 L749.4,338.4 L750.9,338.4 L752.4,338.4 L753.9,338.4 L755.4,338.4 L756.9,338.3 L758.4,338.3 L759.9,338.3 L761.4,338.3 L762.9,338.3 L764.4,338.2 L765.9,338.2 L767.4,338.2 L768.9,338.1 L770.4,338.1 L771.9,338.1 L773.4,338.1 L774.9,338.0 L776.4,338.0 L777.9,338.0 L779.4,337.9 L780.9,337.9 L782.4,337.9 L783.9,337.8 L785.4,337.8 L786.9,337.8 L788.4,337.8 L789.9,337.7 L791.4,337.7 L792.9,337.7 L794.4,337.6 L795.9,337.6 L797.4,337.6 L798.9,337.5 L800.4,337.5 L801.9,337.5 L803.4,337.4 L804.9,337.4 L806.4,337.4 L807.9,337.3 L809.4,337.3 L810.9,337.3 L812.4,337.2 L813.9,337.2 L815.4,337.2 L816.9,337.1 L818.4,337.1 L819.9,337.1 L821.4,337.0 L822.9,337.0 L824.4,337.0 L825.9,336.9 L828.5,336.9" stroke="#ff0000" stroke-dasharray="9.2 8.15"/>
<path d="M90.9,399.9 L92.4,399.9 L93.9,399.9 L95.4,399.9 L96.9,399.9 L98.4,399.9 L99.9,399.9 L101.4,399.9 L102.9,399.9 L104.4,399.9 L105.9,399.9 L107.4,399.9 L108.9,399.9 L110.4,399.9 L111.9,399.9 L113.4,399.9 L114.9,399.9 L116.4,399.9 L117.9,399.9 L119.4,399.9 L120.9,399.9 L122.4,399.9 L123.9,399.9 L125.4,399.9 L126.9,399.9 L128.4,399.9 L129.9,399.9 L131.4,399.9 L132.9,399.9 L134.4,399.9 L135.9,399.9 L137.4,399.9 L138.9,399.9 L140.4,399.9 L141.9,399.9 L143.4,399.9 L144.9,399.9 L146.4,399.9 L147.9,399.9 L149.4,399.9 L150.9,399.9 L152.4,399.9 L153.9,399.9 L155.4,399.9 L156.9,399.9 L158.4,399.9 L159.9,399.9 L161.4,399.9 L162.9,399.9 L164.4,399.9 L165.9,399.9 L167.4,399.9 L168.9,399.9 L170.4,399.9 L171.9,399.9 L173.4,399.9 L174.9,399.9 L176.4,399.9 L177.9,399.8 L179.4,399.8 L180.9,399.7 L182.4,399.7 L183.9,399.6 L185.4,399.6 L186.9,399.5 L188.4,399.4 L189.9,399.3 L191.4,399.3 L192.9,399.1 L194.4,399.0 L195.9,398.9 L197.4,398.6 L198.9,398.4 L200.4,398.1 L201.9,397.9 L203.4,397.6 L204.9,397.4 L206.4,397.1 L207.9,396.9 L209.4,396.6 L210.9,396.3 L212.4,396.0 L213.9,395.7 L215.4,395.3 L216.9,394.8 L218.4,394.2 L219.9,393.5 L221.4,392.9 L222.9,392.2 L224.4,391.6 L225.9,391.0 L227.4,390.5 L228.9,389.9 L230.4,389.4 L231.9,388.8 L233.4,388.3 L234.9,387.7 L236.4,387.1 L237.9,386.5 L239.4,385.9 L240.9,385.3 L242.4,384.7 L243.9,384.1 L245.4,383.5 L246.9,382.9 L248.4,382.4 L249.9,381.9 L251.4,381.3 L252.9,380.8 L254.4,380.3 L255.9,379.9 L257.4,379.4 L258.9,379.0 L260.4,378.6 L261.9,378.2 L263.4,377.9 L264.9,377.5 L266.4,377.2 L267.9,376.8 L269.4,376.5 L270.9,376.3 L272.4,376.0 L273.9,375.8 L275.4,375.6 L276.9,375.4 L278.4,375.2 L279.9,375.0 L281.4,374.9 L282.9,374.7 L284.4,374.6 L285.9,374.5 L287.4,374.4 L288.9,374.3 L290.4,374.2 L291.9,374.1 L293.4,374.0 L294.9,373.9 L296.4,373.8 L297.9,373.8 L299.4,373.7 L300.9,373.7 L302.4,373.7 L303.9,373.6 L305.4,373.6 L306.9,373.6 L308.4,373.5 L309.9,373.5 L311.4,373.5 L312.9,373.5 L314.4,373.5 L315.9,373.5 L317.4,373.5 L318.9,373.5 L320.4,373.5 L321.9,373.5 L323.4,373.5 L324.9,373.5 L326.4,373.5 L327.9,373.5 L329.4,373.6 L330.9,373.6 L332.4,373.6 L333.9,373.6 L335.4,373.7 L336.9,373.7 L338.4,373.8 L339.9,373.9 L341.4,373.9 L342.9,374.0 L344.4,374.1 L345.9,374.2 L347.4,374.3 L348.9,374.4 L350.4,374.5 L351.9,374.6 L353.4,374.7 L354.9,374.8 L356.4,374.9 L357.9,375.0 L359.4,375.2 L360.9,375.3 L362.4,375.5 L363.9,375.7 L365.4,375.9 L366.9,376.1 L368.4,376.3 L369.9,376.5 L371.4,376.8 L372.9,377.0 L374.4,377.3 L375.9,377.6 L377.4,377.9 L378.9,378.3 L380.4,378.7 L381.9,379.2 L383.4,379.7 L384.9,380.4 L386.4,381.0 L387.9,381.8 L389.4,382.6 L390.9,383.4 L392.4,384.3 L393.9,385.3 L395.4,386.5 L396.9,388.0 L398.4,390.0 L399.9,392.8 L401.4,396.5 L402.9,400.2 L404.4,403.4 L405.9,406.7 L407.4,411.5 L408.9,418.7 L410.4,428.0 L411.9,438.5 L413.4,449.7 L414.9,460.5 L416.4,470.1 L417.9,478.0 L419.4,484.4 L420.9,489.5 L422.4,493.5 L423.9,496.8 L425.4,499.5 L426.9,501.8 L428.4,503.7 L429.9,505.3 L431.4,506.8 L432.9,508.0 L434.4,509.0 L435.9,510.0 L437.4,510.8 L438.9,511.5 L440.4,512.1 L441.9,512.7 L443.4,513.2 L444.9,513.7 L446.4,514.1 L447.9,514.5 L449.4,514.9 L450.9,515.2 L452.4,515.5 L453.9,515.8 L455.4,516.1 L456.9,516.4 L458.4,516.6 L459.9,516.8 L461.4,517.0 L462.9,517.2 L464.4,517.4 L465.9,517.6 L467.4,517.8 L468.9,517.9 L470.4,518.1 L471.9,518.2 L473.4,518.3 L474.9,518.4 L476.4,518.6 L477.9,518.7 L479.4,518.8 L480.9,518.9 L482.4,519.0 L483.9,519.1 L485.4,519.2 L486.9,519.2 L488.4,519.3 L489.9,519.4 L491.4,519.4 L492.9,519.5 L494.4,519.5 L495.9,519.6 L497.4,519.6 L498.9,519.7 L500.4,519.7 L501.9,519.7 L503.4,519.7 L504.9,519.8 L506.4,519.8 L507.9,519.8 L509.4,519.8 L510.9,519.8 L512.4,519.8 L513.9,519.8 L515.4,519.8 L516.9,519.8 L518.4,519.8 L519.9,519.8 L521.4,519.8 L522.9,519.8 L524.4,519.8 L525.9,519.8 L527.4,519.7 L528.9,519.7 L530.4,519.7 L531.9,519.6 L533.4,519.6 L534.9,519.6 L536.4,519.5 L537.9,519.5 L539.4,519.4 L540.9,519.4 L542.4,519.3 L543.9,519.2 L545.4,519.2 L546.9,519.1 L548.4,519.0 L549.9,518.9 L551.4,518.8 L552.9,518.8 L554.4,518.7 L555.9,518.6 L557.4,518.4 L558.9,518.3 L560.4,518.2 L561.9,518.1 L563.4,518.0 L564.9,517.8 L566.4,517.7 L567.9,517.5 L569.4,517.4 L570.9,517.2 L572.4,517.0 L573.9,516.8 L575.4,516.7 L576.9,516.5 L578.4,516.3 L579.9,516.1 L581.4,515.9 L582.9,515.6 L584.4,515.4 L585.9,515.2 L587.4,515.0 L588.9,514.7 L590.4,514.5 L591.9,514.2 L593.4,513.9 L594.9,513.7 L596.4,513.4 L597.9,513.1 L599.4,512.8 L600.9,512.5 L602.4,512.2 L603.9,511.9 L605.4,511.6 L606.9,511.2 L608.4,510.9 L609.9,510.6 L611.4,510.2 L612.9,509.8 L614.4,509.4 L615.9,509.1 L617.4,508.7 L618.9,508.2 L620.4,507.8 L621.9,507.4 L623.4,506.9 L624.9,506.5 L626.4,506.0 L627.9,505.5 L629.4,505.0 L630.9,504.5 L632.4,504.0 L633.9,503.5 L635.4,502.9 L636.9,502.4 L638.4,501.8 L639.9,501.2 L641.4,500.6 L642.9,500.0 L644.4,499.4 L645.9,498.7 L647.4,498.1 L648.9,497.4 L650.4,496.7 L651.9,496.0 L653.4,495.3 L654.9,494.5 L656.4,493.8 L657.9,493.0 L659.4,492.2 L660.9,491.4 L662.4,490.6 L663.9,489.8 L665.4,488.9 L666.9,488.1 L668.4,487.2 L669.9,486.3 L671.4,485.4 L672.9,484.5 L674.4,483.6 L675.9,482.7 L677.4,481.7 L678.9,480.8 L680.4,479.8 L681.9,478.8 L683.4,477.8 L684.9,476.8 L686.4,475.8 L687.9,474.8 L689.4,473.8 L690.9,472.8 L692.4,471.8 L693.9,470.8 L695.4,469.8 L696.9,468.8 L698.4,467.8 L699.9,466.8 L701.4,465.7 L702.9,464.7 L704.4,463.7 L705.9,462.8 L707.4,461.8 L708.9,460.8 L710.4,459.8 L711.9,458.9 L713.4,457.9 L714.9,457.0 L716.4,456.1 L717.9,455.2 L719.4,454.3 L720.9,453.4 L722.4,452.5 L723.9,451.6 L725.4,450.8 L726.9,450.0 L728.4,449.1 L729.9,448.3 L731.4,447.5 L732.9,446.8 L734.4,446.0 L735.9,445.3 L737.4,444.5 L738.9,443.8 L740.4,443.1 L741.9,442.4 L743.4,441.7 L744.9,441.1 L746.4,440.4 L747.9,439.8 L749.4,439.2 L750.9,438.6 L752.4,438.0 L753.9,437.4 L755.4,436.8 L756.9,436.3 L758.4,435.7 L759.9,435.2 L761.4,434.7 L762.9,434.2 L764.4,433.7 L765.9,433.2 L767.4,432.7 L768.9,432.2 L770.4,431.8 L771.9,431.3 L773.4,430.9 L774.9,430.5 L776.4,430.1 L777.9,429.6 L779.4,429.2 L780.9,428.8 L782.4,428.5 L783.9,428.1 L785.4,427.7 L786.9,427.4 L788.4,427.0 L789.9,426.6 L791.4,426.3 L792.9,426.0 L794.4,425.6 L795.9,425.3 L797.4,425.0 L798.9,424.7 L800.4,424.4 L801.9,424.1 L803.4,423.8 L804.9,423.5 L806.4,423.2 L807.9,422.9 L809.4,422.7 L810.9,422.4 L812.4,422.1 L813.9,421.9 L815.4,421.6 L816.9,421.4 L818.4,421.1 L819.9,420.9 L821.4,420.6 L822.9,420.4 L824.4,420.2 L825.9,419.9 L828.5,419.5" stroke="#ff0000" stroke-dasharray="9.2 8.15"/>
<path d="M90.9,259.6 L92.4,259.6 L93.9,259.6 L95.4,259.6 L96.9,259.6 L98.4,259.6 L99.9,259.6 L101.4,259.6 L102.9,259.6 L104.4,259.6 L105.9,259.6 L107.4,259.6 L108.9,259.6 L110.4,259.6 L111.9,259.6 L113.4,259.6 L114.9,259.6 L116.4,259.6 L117.9,259.6 L119.4,259.6 L120.9,259.6 L122.4,259.6 L123.9,259.6 L125.4,259.6 L126.9,259.6 L128.4,259.6 L129.9,259.6 L131.4,259.6 L132.9,259.6 L134.4,259.6 L135.9,259.6 L137.4,259.6 L138.9,259.6 L140.4,259.6 L141.9,259.6 L143.4,259.6 L144.9,259.6 L146.4,259.6 L147.9,259.6 L149.4,259.6 L150.9,259.6 L152.4,259.6 L153.9,259.6 L155.4,259.6 L156.9,259.6 L158.4,259.6 L159.9,259.6 L161.4,259.6 L162.9,259.6 L164.4,259.6 L165.9,259.6 L167.4,259.6 L168.9,259.6 L170.4,259.6 L171.9,259.6 L173.4,259.6 L174.9,259.6 L176.4,259.6 L177.9,259.6 L179.4,259.6 L180.9,259.6 L182.4,259.5 L183.9,259.5 L185.4,259.5 L186.9,259.5 L188.4,259.4 L189.9,259.4 L191.4,259.3 L192.9,259.3 L194.4,259.2 L195.9,259.1 L197.4,259.0 L198.9,258.9 L200.4,258.8 L201.9,258.6 L203.4,258.5 L204.9,258.4 L206.4,258.2 L207.9,258.1 L209.4,258.0 L210.9,257.8 L212.4,257.6 L213.9,257.4 L215.4,257.2 L216.9,256.9 L218.4,256.5 L219.9,256.0 L221.4,255.6 L222.9,255.1 L224.4,254.6 L225.9,254.1 L227.4,253.7 L228.9,253.2 L230.4,252.7 L231.9,252.1 L233.4,251.6 L234.9,250.9 L236.4,250.3 L237.9,249.5 L239.4,248.7 L240.9,247.9 L242.4,246.9 L243.9,246.0 L245.4,245.0 L246.9,243.9 L248.4,242.9 L249.9,241.7 L251.4,240.6 L252.9,239.3 L254.4,238.0 L255.9,236.7 L257.4,235.4 L258.9,234.0 L260.4,232.6 L261.9,231.2 L263.4,229.7 L264.9,228.2 L266.4,226.6 L267.9,225.0 L269.4,223.3 L270.9,221.7 L272.4,220.2 L273.9,218.7 L275.4,217.4 L276.9,216.0 L278.4,214.7 L279.9,213.5 L281.4,212.2 L282.9,211.0 L284.4,209.9 L285.9,208.8 L287.4,207.8 L288.9,206.8 L290.4,205.9 L291.9,204.9 L293.4,204.1 L294.9,203.3 L296.4,202.6 L297.9,202.0 L299.4,201.5 L300.9,201.0 L302.4,200.6 L303.9,200.2 L305.4,199.8 L306.9,199.5 L308.4,199.2 L309.9,199.0 L311.4,198.8 L312.9,198.6 L314.4,198.5 L315.9,198.3 L317.4,198.2 L318.9,198.1 L320.4,198.1 L321.9,198.2 L323.4,198.3 L324.9,198.5 L326.4,198.7 L327.9,199.0 L329.4,199.3 L330.9,199.7 L332.4,200.0 L333.9,200.4 L335.4,200.9 L336.9,201.5 L338.4,202.2 L339.9,202.9 L341.4,203.7 L342.9,204.6 L344.4,205.3 L345.9,206.1 L347.4,207.0 L348.9,207.8 L350.4,208.7 L351.9,209.6 L353.4,210.6 L354.9,211.5 L356.4,212.6 L357.9,213.6 L359.4,214.7 L360.9,215.9 L362.4,217.1 L363.9,218.3 L365.4,219.5 L366.9,220.8 L368.4,222.0 L369.9,223.3 L371.4,224.5 L372.9,225.8 L374.4,227.2 L375.9,228.5 L377.4,229.9 L378.9,231.4 L380.4,232.9 L381.9,234.6 L383.4,236.3 L384.9,238.1 L386.4,239.9 L387.9,241.6 L389.4,243.3 L390.9,244.8 L392.4,246.4 L393.9,247.9 L395.4,249.5 L396.9,251.3 L398.4,253.2 L399.9,255.5 L401.4,257.9 L402.9,259.8 L404.4,261.1 L405.9,262.3 L407.4,263.8 L408.9,265.6 L410.4,267.5 L411.9,269.3 L413.4,271.1 L414.9,272.8 L416.4,274.6 L417.9,276.3 L419.4,277.9 L420.9,279.5 L422.4,281.1 L423.9,282.6 L425.4,284.0 L426.9,285.4 L428.4,286.7 L429.9,287.9 L431.4,289.1 L432.9,290.2 L434.4,291.1 L435.9,292.0 L437.4,292.7 L438.9,293.3 L440.4,293.7 L441.9,294.0 L443.4,294.2 L444.9,294.2 L446.4,294.1 L447.9,293.8 L449.4,293.4 L450.9,292.9 L452.4,292.2 L453.9,291.4 L455.4,290.4 L456.9,289.3 L458.4,288.0 L459.9,286.6 L461.4,285.1 L462.9,283.5 L464.4,281.8 L465.9,280.0 L467.4,278.2 L468.9,276.3 L470.4,274.3 L471.9,272.2 L473.4,270.1 L474.9,267.9 L476.4,265.7 L477.9,263.3 L479.4,260.9 L480.9,258.6 L482.4,256.2 L483.9,253.9 L485.4,251.6 L486.9,249.3 L488.4,247.1 L489.9,244.9 L491.4,242.9 L492.9,241.1 L494.4,239.4 L495.9,237.8 L497.4,236.3 L498.9,234.9 L500.4,233.6 L501.9,232.4 L503.4,231.1 L504.9,229.9 L506.4,228.9 L507.9,228.1 L509.4,227.7 L510.9,227.5 L512.4,227.3 L513.9,227.1 L515.4,227.0 L516.9,227.0 L518.4,227.0 L519.9,227.4 L521.4,228.1 L522.9,228.9 L524.4,229.9 L525.9,230.8 L527.4,231.8 L528.9,232.9 L530.4,234.2 L531.9,235.5 L533.4,236.9 L534.9,238.4 L536.4,239.9 L537.9,241.7 L539.4,243.5 L540.9,245.4 L542.4,247.3 L543.9,249.3 L545.4,251.2 L546.9,253.3 L548.4,255.4 L549.9,257.5 L551.4,259.7 L552.9,261.8 L554.4,263.9 L555.9,265.9 L557.4,267.9 L558.9,269.9 L560.4,271.9 L561.9,273.8 L563.4,275.7 L564.9,277.5 L566.4,279.2 L567.9,280.9 L569.4,282.5 L570.9,284.0 L572.4,285.3 L573.9,286.6 L575.4,287.7 L576.9,288.8 L578.4,289.7 L579.9,290.6 L581.4,291.3 L582.9,291.9 L584.4,292.5 L585.9,292.9 L587.4,293.3 L588.9,293.6 L590.4,293.9 L591.9,294.1 L593.4,294.2 L594.9,294.2 L596.4,294.2 L597.9,294.2 L599.4,294.1 L600.9,293.9 L602.4,293.8 L603.9,293.6 L605.4,293.3 L606.9,293.1 L608.4,292.8 L609.9,292.5 L611.4,292.2 L612.9,291.9 L614.4,291.5 L615.9,291.2 L617.4,290.8 L618.9,290.4 L620.4,290.0 L621.9,289.7 L623.4,289.3 L624.9,288.9 L626.4,288.5 L627.9,288.1 L629.4,287.7 L630.9,287.3 L632.4,286.9 L633.9,286.5 L635.4,286.2 L636.9,285.8 L638.4,285.4 L639.9,285.0 L641.4,284.6 L642.9,284.3 L644.4,283.9 L645.9,283.6 L647.4,283.2 L648.9,282.8 L650.4,282.5 L651.9,282.2 L653.4,281.8 L654.9,281.5 L656.4,281.2 L657.9,280.9 L659.4,280.5 L660.9,280.2 L662.4,279.9 L663.9,279.6 L665.4,279.3 L666.9,279.1 L668.4,278.8 L669.9,278.5 L671.4,278.2 L672.9,278.0 L674.4,277.7 L675.9,277.4 L677.4,277.2 L678.9,276.9 L680.4,276.7 L681.9,276.5 L683.4,276.2 L684.9,276.0 L686.4,275.8 L687.9,275.6 L689.4,275.3 L690.9,275.1 L692.4,274.9 L693.9,274.7 L695.4,274.5 L696.9,274.3 L698.4,274.1 L699.9,273.9 L701.4,273.8 L702.9,273.6 L704.4,273.4 L705.9,273.2 L707.4,273.1 L708.9,272.9 L710.4,272.7 L711.9,272.6 L713.4,272.4 L714.9,272.3 L716.4,272.1 L717.9,272.0 L719.4,271.8 L720.9,271.7 L722.4,271.5 L723.9,271.4 L725.4,271.3 L726.9,271.1 L728.4,271.0 L729.9,270.9 L731.4,270.7 L732.9,270.6 L734.4,270.5 L735.9,270.4 L737.4,270.3 L738.9,270.1 L740.4,270.0 L741.9,269.9 L743.4,269.8 L744.9,269.7 L746.4,269.6 L747.9,269.5 L749.4,269.4 L750.9,269.3 L752.4,269.2 L753.9,269.1 L755.4,269.0 L756.9,268.9 L758.4,268.8 L759.9,268.7 L761.4,268.6 L762.9,268.6 L764.4,268.5 L765.9,268.4 L767.4,268.3 L768.9,268.2 L770.4,268.1 L771.9,268.1 L773.4,268.0 L774.9,267.9 L776.4,267.8 L777.9,267.8 L779.4,267.7 L780.9,267.6 L782.4,267.5 L783.9,267.5 L785.4,267.4 L786.9,267.3 L788.4,267.3 L789.9,267.2 L791.4,267.1 L792.9,267.1 L794.4,267.0 L795.9,267.0 L797.4,266.9 L798.9,266.8 L800.4,266.8 L801.9,266.7 L803.4,266.7 L804.9,266.6 L806.4,266.5 L807.9,266.5 L809.4,266.4 L810.9,266.4 L812.4,266.3 L813.9,266.3 L815.4,266.2 L816.9,266.2 L818.4,266.1 L819.9,266.0 L821.4,266.0 L822.9,265.9 L824.4,265.9 L825.9,265.8 L828.5,265.8" stroke="#00ff00" stroke-dasharray="9.2 3.7 2.9 3.7"/>
<path d="M90.9,399.9 L92.4,399.9 L93.9,399.9 L95.4,399.9 L96.9,399.9 L98.4,399.9 L99.9,399.9 L101.4,399.9 L102.9,399.9 L104.4,399.9 L105.9,399.9 L107.4,399.9 L108.9,399.9 L110.4,399.9 L111.9,399.9 L113.4,399.9 L114.9,399.9 L116.4,399.9 L117.9,399.9 L119.4,399.9 L120.9,399.9 L122.4,399.9 L123.9,399.9 L125.4,399.9 L126.9,399.9 L128.4,399.9 L129.9,399.9 L131.4,399.9 L132.9,399.9 L134.4,399.9 L135.9,399.9 L137.4,399.9 L138.9,399.9 L140.4,399.9 L141.9,399.9 L143.4,399.9 L144.9,399.9 L146.4,399.9 L147.9,399.9 L149.4,399.9 L150.9,399.9 L152.4,399.9 L153.9,399.9 L155.4,399.9 L156.9,399.9 L158.4,399.9 L159.9,399.9 L161.4,399.9 L162.9,399.9 L164.4,399.9 L165.9,399.9 L167.4,399.9 L168.9,399.9 L170.4,399.9 L171.9,399.9 L173.4,399.9 L174.9,399.9 L176.4,399.9 L177.9,399.9 L179.4,399.9 L180.9,399.9 L182.4,399.9 L183.9,399.9 L185.4,399.9 L186.9,399.8 L188.4,399.8 L189.9,399.8 L191.4,399.8 L192.9,399.8 L194.4,399.7 L195.9,399.7 L197.4,399.7 L198.9,399.6 L200.4,399.6 L201.9,399.5 L203.4,399.4 L204.9,399.4 L206.4,399.3 L207.9,399.3 L209.4,399.2 L210.9,399.2 L212.4,399.1 L213.9,399.0 L215.4,398.9 L216.9,398.8 L218.4,398.6 L219.9,398.4 L221.4,398.3 L222.9,398.1 L224.4,397.9 L225.9,397.7 L227.4,397.6 L228.9,397.4 L230.4,397.2 L231.9,397.0 L233.4,396.8 L234.9,396.6 L236.4,396.4 L237.9,396.1 L239.4,395.8 L240.9,395.6 L242.4,395.3 L243.9,395.0 L245.4,394.7 L246.9,394.4 L248.4,394.1 L249.9,393.8 L251.4,393.4 L252.9,393.1 L254.4,392.8 L255.9,392.4 L257.4,392.1 L258.9,391.8 L260.4,391.5 L261.9,391.1 L263.4,390.8 L264.9,390.5 L266.4,390.2 L267.9,389.8 L269.4,389.5 L270.9,389.2 L272.4,388.9 L273.9,388.7 L275.4,388.4 L276.9,388.2 L278.4,388.0 L279.9,387.8 L281.4,387.6 L282.9,387.4 L284.4,387.2 L285.9,387.1 L287.4,386.9 L288.9,386.8 L290.4,386.6 L291.9,386.5 L293.4,386.4 L294.9,386.2 L296.4,386.2 L297.9,386.1 L299.4,386.0 L300.9,385.9 L302.4,385.9 L303.9,385.8 L305.4,385.8 L306.9,385.7 L308.4,385.7 L309.9,385.7 L311.4,385.7 L312.9,385.6 L314.4,385.6 L315.9,385.6 L317.4,385.6 L318.9,385.6 L320.4,385.6 L321.9,385.6 L323.4,385.6 L324.9,385.6 L326.4,385.6 L327.9,385.7 L329.4,385.7 L330.9,385.8 L332.4,385.8 L333.9,385.9 L335.4,385.9 L336.9,386.0 L338.4,386.1 L339.9,386.2 L341.4,386.3 L342.9,386.4 L344.4,386.5 L345.9,386.7 L347.4,386.8 L348.9,386.9 L350.4,387.0 L351.9,387.2 L353.4,387.3 L354.9,387.5 L356.4,387.6 L357.9,387.8 L359.4,388.0 L360.9,388.2 L362.4,388.4 L363.9,388.6 L365.4,388.8 L366.9,389.0 L368.4,389.3 L369.9,389.5 L371.4,389.8 L372.9,390.0 L374.4,390.3 L375.9,390.6 L377.4,390.9 L378.9,391.2 L380.4,391.5 L381.9,391.9 L383.4,392.3 L384.9,392.8 L386.4,393.3 L387.9,393.7 L389.4,394.2 L390.9,394.6 L392.4,395.1 L393.9,395.6 L395.4,396.1 L396.9,396.7 L398.4,397.4 L399.9,398.3 L401.4,399.2 L402.9,400.0 L404.4,400.6 L405.9,401.1 L407.4,401.8 L408.9,402.7 L410.4,403.7 L411.9,404.8 L413.4,405.9 L414.9,407.0 L416.4,408.2 L417.9,409.5 L419.4,410.9 L420.9,412.3 L422.4,413.7 L423.9,415.3 L425.4,416.9 L426.9,418.7 L428.4,420.5 L429.9,422.4 L431.4,424.5 L432.9,426.6 L434.4,428.8 L435.9,431.1 L437.4,433.5 L438.9,435.9 L440.4,438.3 L441.9,440.8 L443.4,443.3 L444.9,445.8 L446.4,448.3 L447.9,450.8 L449.4,453.3 L450.9,455.8 L452.4,458.2 L453.9,460.6 L455.4,463.0 L456.9,465.3 L458.4,467.6 L459.9,469.7 L461.4,471.8 L462.9,473.8 L464.4,475.6 L465.9,477.4 L467.4,479.0 L468.9,480.6 L470.4,482.1 L471.9,483.5 L473.4,484.8 L474.9,486.1 L476.4,487.3 L477.9,488.5 L479.4,489.6 L480.9,490.6 L482.4,491.6 L483.9,492.5 L485.4,493.3 L486.9,494.1 L488.4,494.8 L489.9,495.4 L491.4,496.0 L492.9,496.5 L494.4,497.0 L495.9,497.4 L497.4,497.8 L498.9,498.1 L500.4,498.4 L501.9,498.7 L503.4,499.0 L504.9,499.2 L506.4,499.5 L507.9,499.6 L509.4,499.7 L510.9,499.8 L512.4,499.8 L513.9,499.8 L515.4,499.8 L516.9,499.9 L518.4,499.8 L519.9,499.8 L521.4,499.6 L522.9,499.4 L524.4,499.2 L525.9,499.0 L527.4,498.8 L528.9,498.6 L530.4,498.3 L531.9,498.0 L533.4,497.6 L534.9,497.2 L536.4,496.8 L537.9,496.4 L539.4,495.9 L540.9,495.3 L542.4,494.7 L543.9,494.1 L545.4,493.4 L546.9,492.7 L548.4,491.9 L549.9,491.1 L551.4,490.2 L552.9,489.2 L554.4,488.2 L555.9,487.2 L557.4,486.1 L558.9,484.9 L560.4,483.7 L561.9,482.4 L563.4,481.0 L564.9,479.6 L566.4,478.1 L567.9,476.6 L569.4,474.9 L570.9,473.2 L572.4,471.5 L573.9,469.8 L575.4,468.0 L576.9,466.2 L578.4,464.4 L579.9,462.7 L581.4,460.9 L582.9,459.1 L584.4,457.4 L585.9,455.7 L587.4,453.9 L588.9,452.2 L590.4,450.5 L591.9,448.8 L593.4,447.2 L594.9,445.7 L596.4,444.2 L597.9,442.7 L599.4,441.3 L600.9,440.0 L602.4,438.7 L603.9,437.4 L605.4,436.2 L606.9,435.0 L608.4,433.9 L609.9,432.8 L611.4,431.8 L612.9,430.8 L614.4,429.8 L615.9,428.9 L617.4,428.0 L618.9,427.1 L620.4,426.3 L621.9,425.5 L623.4,424.8 L624.9,424.0 L626.4,423.3 L627.9,422.7 L629.4,422.0 L630.9,421.4 L632.4,420.8 L633.9,420.3 L635.4,419.7 L636.9,419.2 L638.4,418.7 L639.9,418.2 L641.4,417.7 L642.9,417.3 L644.4,416.8 L645.9,416.4 L647.4,416.0 L648.9,415.6 L650.4,415.2 L651.9,414.9 L653.4,414.5 L654.9,414.2 L656.4,413.8 L657.9,413.5 L659.4,413.2 L660.9,412.9 L662.4,412.6 L663.9,412.4 L665.4,412.1 L666.9,411.8 L668.4,411.6 L669.9,411.3 L671.4,411.1 L672.9,410.9 L674.4,410.7 L675.9,410.5 L677.4,410.2 L678.9,410.0 L680.4,409.9 L681.9,409.7 L683.4,409.5 L684.9,409.3 L686.4,409.1 L687.9,409.0 L689.4,408.8 L690.9,408.6 L692.4,408.5 L693.9,408.3 L695.4,408.2 L696.9,408.1 L698.4,407.9 L699.9,407.8 L701.4,407.7 L702.9,407.5 L704.4,407.4 L705.9,407.3 L707.4,407.2 L708.9,407.1 L710.4,406.9 L711.9,406.8 L713.4,406.7 L714.9,406.6 L716.4,406.5 L717.9,406.4 L719.4,406.3 L720.9,406.2 L722.4,406.2 L723.9,406.1 L725.4,406.0 L726.9,405.9 L728.4,405.8 L729.9,405.7 L731.4,405.7 L732.9,405.6 L734.4,405.5 L735.9,405.4 L737.4,405.4 L738.9,405.3 L740.4,405.2 L741.9,405.2 L743.4,405.1 L744.9,405.0 L746.4,405.0 L747.9,404.9 L749.4,404.8 L750.9,404.8 L752.4,404.7 L753.9,404.7 L755.4,404.6 L756.9,404.6 L758.4,404.5 L759.9,404.5 L761.4,404.4 L762.9,404.4 L764.4,404.3 L765.9,404.3 L767.4,404.2 L768.9,404.2 L770.4,404.1 L771.9,404.1 L773.4,404.0 L774.9,404.0 L776.4,404.0 L777.9,403.9 L779.4,403.9 L780.9,403.8 L782.4,403.8 L783.9,403.8 L785.4,403.7 L786.9,403.7 L788.4,403.6 L789.9,403.6 L791.4,403.6 L792.9,403.5 L794.4,403.5 L795.9,403.5 L797.4,403.4 L798.9,403.4 L800.4,403.4 L801.9,403.3 L803.4,403.3 L804.9,403.3 L806.4,403.2 L807.9,403.2 L809.4,403.2 L810.9,403.1 L812.4,403.1 L813.9,403.1 L815.4,403.1 L816.9,403.0 L818.4,403.0 L819.9,403.0 L821.4,403.0 L822.9,402.9 L824.4,402.9 L825.9,402.9 L828.5,402.8" stroke="#00ff00" stroke-dasharray="9.2 3.7 2.9 3.7"/>
<path d="M90.9,187.7 L92.4,187.7 L93.9,187.7 L95.4,187.7 L96.9,187.7 L98.4,187.7 L99.9,187.7 L101.4,187.7 L102.9,187.7 L104.4,187.7 L105.9,187.7 L107.4,187.7 L108.9,187.7 L110.4,187.7 L111.9,187.7 L113.4,187.7 L114.9,187.7 L116.4,187.7 L117.9,187.7 L119.4,187.7 L120.9,187.7 L122.4,187.7 L123.9,187.7 L125.4,187.7 L126.9,187.7 L128.4,187.7 L129.9,187.7 L131.4,187.7 L132.9,187.7 L134.4,187.7 L135.9,187.7 L137.4,187.7 L138.9,187.7 L140.4,187.7 L141.9,187.7 L143.4,187.7 L144.9,187.7 L146.4,187.7 L147.9,187.7 L149.4,187.7 L150.9,187.7 L152.4,187.7 L153.9,187.7 L155.4,187.7 L156.9,187.7 L158.4,187.7 L159.9,187.7 L161.4,187.7 L162.9,187.7 L164.4,187.7 L165.9,187.7 L167.4,187.7 L168.9,187.7 L170.4,187.7 L171.9,187.7 L173.4,187.7 L174.9,187.7 L176.4,187.7 L177.9,187.6 L179.4,187.6 L180.9,187.6 L182.4,187.6 L183.9,187.6 L185.4,187.5 L186.9,187.5 L188.4,187.5 L189.9,187.4 L191.4,187.4 L192.9,187.3 L194.4,187.3 L195.9,187.2 L197.4,187.1 L198.9,186.9 L200.4,186.8 L201.9,186.7 L203.4,186.5 L204.9,186.4 L206.4,186.3 L207.9,186.2 L209.4,186.0 L210.9,185.8 L212.4,185.7 L213.9,185.5 L215.4,185.2 L216.9,184.9 L218.4,184.5 L219.9,184.1 L221.4,183.6 L222.9,183.2 L224.4,182.7 L225.9,182.2 L227.4,181.8 L228.9,181.3 L230.4,180.8 L231.9,180.2 L233.4,179.7 L234.9,179.1 L236.4,178.4 L237.9,177.7 L239.4,176.9 L240.9,176.1 L242.4,175.2 L243.9,174.2 L245.4,173.2 L246.9,172.2 L248.4,171.2 L249.9,170.1 L251.4,169.0 L252.9,167.8 L254.4,166.5 L255.9,165.3 L257.4,163.9 L258.9,162.6 L260.4,161.3 L261.9,159.9 L263.4,158.5 L264.9,157.0 L266.4,155.5 L267.9,153.9 L269.4,152.4 L270.9,150.8 L272.4,149.4 L273.9,148.0 L275.4,146.7 L276.9,145.4 L278.4,144.1 L279.9,142.9 L281.4,141.7 L282.9,140.6 L284.4,139.5 L285.9,138.4 L287.4,137.5 L288.9,136.5 L290.4,135.6 L291.9,134.7 L293.4,133.9 L294.9,133.1 L296.4,132.4 L297.9,131.9 L299.4,131.4 L300.9,131.0 L302.4,130.6 L303.9,130.2 L305.4,129.8 L306.9,129.5 L308.4,129.3 L309.9,129.0 L311.4,128.8 L312.9,128.7 L314.4,128.5 L315.9,128.4 L317.4,128.3 L318.9,128.2 L320.4,128.2 L321.9,128.3 L323.4,128.4 L324.9,128.6 L326.4,128.8 L327.9,129.1 L329.4,129.4 L330.9,129.7 L332.4,130.0 L333.9,130.4 L335.4,130.8 L336.9,131.4 L338.4,132.1 L339.9,132.8 L341.4,133.6 L342.9,134.4 L344.4,135.1 L345.9,135.9 L347.4,136.7 L348.9,137.5 L350.4,138.3 L351.9,139.2 L353.4,140.1 L354.9,141.1 L356.4,142.0 L357.9,143.1 L359.4,144.1 L360.9,145.2 L362.4,146.4 L363.9,147.5 L365.4,148.7 L366.9,149.9 L368.4,151.1 L369.9,152.3 L371.4,153.5 L372.9,154.8 L374.4,156.0 L375.9,157.4 L377.4,158.7 L378.9,160.1 L380.4,161.6 L381.9,163.2 L383.4,164.9 L384.9,166.6 L386.4,168.3 L387.9,170.0 L389.4,171.6 L390.9,173.1 L392.4,174.6 L393.9,176.1 L395.4,177.7 L396.9,179.4 L398.4,181.3 L399.9,183.6 L401.4,185.9 L402.9,187.8 L404.4,189.1 L405.9,190.3 L407.4,191.8 L408.9,193.7 L410.4,195.6 L411.9,197.5 L413.4,199.4 L414.9,201.3 L416.4,203.1 L417.9,205.0 L419.4,206.8 L420.9,208.7 L422.4,210.5 L423.9,212.3 L425.4,214.0 L426.9,215.8 L428.4,217.6 L429.9,219.4 L431.4,221.1 L432.9,222.9 L434.4,224.6 L435.9,226.2 L437.4,227.9 L438.9,229.5 L440.4,231.0 L441.9,232.5 L443.4,233.9 L444.9,235.3 L446.4,236.7 L447.9,238.0 L449.4,239.2 L450.9,240.4 L452.4,241.6 L453.9,242.6 L455.4,243.7 L456.9,244.7 L458.4,245.6 L459.9,246.4 L461.4,247.2 L462.9,247.8 L464.4,248.4 L465.9,248.9 L467.4,249.2 L468.9,249.5 L470.4,249.8 L471.9,249.9 L473.4,249.9 L474.9,249.9 L476.4,249.7 L477.9,249.5 L479.4,249.1 L480.9,248.7 L482.4,248.2 L483.9,247.7 L485.4,247.0 L486.9,246.4 L488.4,245.6 L489.9,244.9 L491.4,244.1 L492.9,243.4 L494.4,242.7 L495.9,242.0 L497.4,241.4 L498.9,240.7 L500.4,240.1 L501.9,239.5 L503.4,238.9 L504.9,238.3 L506.4,237.8 L507.9,237.4 L509.4,237.2 L510.9,237.1 L512.4,237.0 L513.9,236.9 L515.4,236.9 L516.9,236.8 L518.4,236.9 L519.9,237.1 L521.4,237.4 L522.9,237.8 L524.4,238.3 L525.9,238.8 L527.4,239.3 L528.9,239.8 L530.4,240.4 L531.9,241.0 L533.4,241.6 L534.9,242.3 L536.4,242.9 L537.9,243.6 L539.4,244.3 L540.9,245.0 L542.4,245.7 L543.9,246.3 L545.4,246.9 L546.9,247.5 L548.4,248.0 L549.9,248.5 L551.4,248.9 L552.9,249.3 L554.4,249.5 L555.9,249.7 L557.4,249.9 L558.9,249.9 L560.4,249.9 L561.9,249.8 L563.4,249.6 L564.9,249.4 L566.4,249.0 L567.9,248.6 L569.4,248.2 L570.9,247.6 L572.4,247.0 L573.9,246.4 L575.4,245.7 L576.9,245.0 L578.4,244.3 L579.9,243.5 L581.4,242.8 L582.9,242.0 L584.4,241.2 L585.9,240.3 L587.4,239.5 L588.9,238.7 L590.4,237.8 L591.9,236.9 L593.4,236.1 L594.9,235.3 L596.4,234.4 L597.9,233.6 L599.4,232.8 L600.9,232.0 L602.4,231.2 L603.9,230.4 L605.4,229.7 L606.9,228.9 L608.4,228.2 L609.9,227.4 L611.4,226.7 L612.9,226.0 L614.4,225.3 L615.9,224.6 L617.4,223.9 L618.9,223.3 L620.4,222.6 L621.9,222.0 L623.4,221.4 L624.9,220.8 L626.4,220.2 L627.9,219.6 L629.4,219.0 L630.9,218.5 L632.4,217.9 L633.9,217.4 L635.4,216.8 L636.9,216.3 L638.4,215.8 L639.9,215.3 L641.4,214.9 L642.9,214.4 L644.4,213.9 L645.9,213.5 L647.4,213.0 L648.9,212.6 L650.4,212.2 L651.9,211.8 L653.4,211.4 L654.9,211.0 L656.4,210.6 L657.9,210.2 L659.4,209.8 L660.9,209.5 L662.4,209.1 L663.9,208.8 L665.4,208.4 L666.9,208.1 L668.4,207.8 L669.9,207.5 L671.4,207.2 L672.9,206.9 L674.4,206.6 L675.9,206.3 L677.4,206.0 L678.9,205.7 L680.4,205.5 L681.9,205.2 L683.4,204.9 L684.9,204.7 L686.4,204.4 L687.9,204.2 L689.4,204.0 L690.9,203.7 L692.4,203.5 L693.9,203.3 L695.4,203.1 L696.9,202.9 L698.4,202.7 L699.9,202.4 L701.4,202.2 L702.9,202.1 L704.4,201.9 L705.9,201.7 L707.4,201.5 L708.9,201.3 L710.4,201.1 L711.9,201.0 L713.4,200.8 L714.9,200.6 L716.4,200.5 L717.9,200.3 L719.4,200.2 L720.9,200.0 L722.4,199.9 L723.9,199.7 L725.4,199.6 L726.9,199.4 L728.4,199.3 L729.9,199.2 L731.4,199.0 L732.9,198.9 L734.4,198.8 L735.9,198.6 L737.4,198.5 L738.9,198.4 L740.4,198.3 L741.9,198.2 L743.4,198.1 L744.9,197.9 L746.4,197.8 L747.9,197.7 L749.4,197.6 L750.9,197.5 L752.4,197.4 L753.9,197.3 L755.4,197.2 L756.9,197.1 L758.4,197.0 L759.9,196.9 L761.4,196.8 L762.9,196.7 L764.4,196.7 L765.9,196.6 L767.4,196.5 L768.9,196.4 L770.4,196.3 L771.9,196.2 L773.4,196.2 L774.9,196.1 L776.4,196.0 L777.9,195.9 L779.4,195.9 L780.9,195.8 L782.4,195.7 L783.9,195.6 L785.4,195.6 L786.9,195.5 L788.4,195.4 L789.9,195.4 L791.4,195.3 L792.9,195.2 L794.4,195.2 L795.9,195.1 L797.4,195.0 L798.9,195.0 L800.4,194.9 L801.9,194.8 L803.4,194.8 L804.9,194.7 L806.4,194.7 L807.9,194.6 L809.4,194.5 L810.9,194.5 L812.4,194.4 L813.9,194.4 L815.4,194.3 L816.9,194.3 L818.4,194.2 L819.9,194.2 L821.4,194.1 L822.9,194.1 L824.4,194.0 L825.9,194.0 L828.5,193.9" stroke="#0000ff" stroke-dasharray="13.4 4 2.5 4 2.5 4 2.5 4"/>
<path d="M90.9,399.9 L92.4,399.9 L93.9,399.9 L95.4,399.9 L96.9,399.9 L98.4,399.9 L99.9,399.9 L101.4,399.9 L102.9,399.9 L104.4,399.9 L105.9,399.9 L107.4,399.9 L108.9,399.9 L110.4,399.9 L111.9,399.9 L113.4,399.9 L114.9,399.9 L116.4,399.9 L117.9,399.9 L119.4,399.9 L120.9,399.9 L122.4,399.9 L123.9,399.9 L125.4,399.9 L126.9,399.9 L128.4,399.9 L129.9,399.9 L131.4,399.9 L132.9,399.9 L134.4,399.9 L135.9,399.9 L137.4,399.9 L138.9,399.9 L140.4,399.9 L141.9,399.9 L143.4,399.9 L144.9,399.9 L146.4,399.9 L147.9,399.9 L149.4,399.9 L150.9,399.9 L152.4,399.9 L153.9,399.9 L155.4,399.9 L156.9,399.9 L158.4,399.9 L159.9,399.9 L161.4,399.9 L162.9,399.9 L164.4,399.9 L165.9,399.9 L167.4,399.9 L168.9,399.9 L170.4,399.9 L171.9,399.9 L173.4,399.9 L174.9,399.9 L176.4,399.9 L177.9,399.9 L179.4,399.9 L180.9,399.9 L182.4,399.9 L183.9,399.9 L185.4,399.9 L186.9,399.9 L188.4,399.9 L189.9,399.9 L191.4,399.9 L192.9,399.8 L194.4,399.8 L195.9,399.8 L197.4,399.8 L198.9,399.8 L200.4,399.7 L201.9,399.7 L203.4,399.7 L204.9,399.6 L206.4,399.6 L207.9,399.6 L209.4,399.5 L210.9,399.5 L212.4,399.5 L213.9,399.4 L215.4,399.4 L216.9,399.3 L218.4,399.2 L219.9,399.1 L221.4,399.0 L222.9,398.9 L224.4,398.8 L225.9,398.7 L227.4,398.6 L228.9,398.5 L230.4,398.4 L231.9,398.2 L233.4,398.1 L234.9,398.0 L236.4,397.9 L237.9,397.7 L239.4,397.5 L240.9,397.4 L242.4,397.2 L243.9,397.0 L245.4,396.8 L246.9,396.6 L248.4,396.4 L249.9,396.2 L251.4,396.0 L252.9,395.8 L254.4,395.6 L255.9,395.4 L257.4,395.1 L258.9,394.9 L260.4,394.7 L261.9,394.5 L263.4,394.2 L264.9,394.0 L266.4,393.8 L267.9,393.5 L269.4,393.3 L270.9,393.1 L272.4,392.9 L273.9,392.7 L275.4,392.5 L276.9,392.3 L278.4,392.1 L279.9,392.0 L281.4,391.8 L282.9,391.7 L284.4,391.5 L285.9,391.4 L287.4,391.3 L288.9,391.2 L290.4,391.0 L291.9,390.9 L293.4,390.8 L294.9,390.7 L296.4,390.7 L297.9,390.6 L299.4,390.5 L300.9,390.5 L302.4,390.4 L303.9,390.4 L305.4,390.4 L306.9,390.3 L308.4,390.3 L309.9,390.3 L311.4,390.2 L312.9,390.2 L314.4,390.2 L315.9,390.2 L317.4,390.2 L318.9,390.2 L320.4,390.2 L321.9,390.2 L323.4,390.2 L324.9,390.2 L326.4,390.2 L327.9,390.3 L329.4,390.3 L330.9,390.3 L332.4,390.4 L333.9,390.4 L335.4,390.5 L336.9,390.5 L338.4,390.6 L339.9,390.7 L341.4,390.8 L342.9,390.9 L344.4,391.0 L345.9,391.1 L347.4,391.2 L348.9,391.3 L350.4,391.4 L351.9,391.5 L353.4,391.6 L354.9,391.7 L356.4,391.9 L357.9,392.0 L359.4,392.1 L360.9,392.3 L362.4,392.4 L363.9,392.6 L365.4,392.8 L366.9,392.9 L368.4,393.1 L369.9,393.3 L371.4,393.5 L372.9,393.7 L374.4,393.9 L375.9,394.1 L377.4,394.3 L378.9,394.5 L380.4,394.7 L381.9,395.0 L383.4,395.3 L384.9,395.6 L386.4,395.9 L387.9,396.2 L389.4,396.5 L390.9,396.8 L392.4,397.1 L393.9,397.4 L395.4,397.7 L396.9,398.1 L398.4,398.5 L399.9,399.0 L401.4,399.5 L402.9,400.0 L404.4,400.3 L405.9,400.6 L407.4,401.0 L408.9,401.4 L410.4,402.0 L411.9,402.5 L413.4,403.0 L414.9,403.6 L416.4,404.2 L417.9,404.8 L419.4,405.4 L420.9,406.0 L422.4,406.7 L423.9,407.3 L425.4,408.0 L426.9,408.8 L428.4,409.5 L429.9,410.3 L431.4,411.1 L432.9,412.0 L434.4,412.8 L435.9,413.7 L437.4,414.7 L438.9,415.6 L440.4,416.6 L441.9,417.6 L443.4,418.6 L444.9,419.7 L446.4,420.7 L447.9,421.8 L449.4,423.0 L450.9,424.2 L452.4,425.4 L453.9,426.6 L455.4,427.9 L456.9,429.2 L458.4,430.6 L459.9,432.0 L461.4,433.5 L462.9,434.9 L464.4,436.4 L465.9,437.8 L467.4,439.3 L468.9,440.8 L470.4,442.2 L471.9,443.7 L473.4,445.2 L474.9,446.7 L476.4,448.2 L477.9,449.8 L479.4,451.3 L480.9,452.7 L482.4,454.2 L483.9,455.5 L485.4,456.8 L486.9,458.1 L488.4,459.4 L489.9,460.5 L491.4,461.6 L492.9,462.5 L494.4,463.4 L495.9,464.2 L497.4,465.0 L498.9,465.6 L500.4,466.2 L501.9,466.8 L503.4,467.4 L504.9,467.9 L506.4,468.4 L507.9,468.7 L509.4,468.9 L510.9,469.0 L512.4,469.1 L513.9,469.2 L515.4,469.2 L516.9,469.2 L518.4,469.2 L519.9,469.1 L521.4,468.8 L522.9,468.4 L524.4,467.9 L525.9,467.5 L527.4,467.1 L528.9,466.5 L530.4,466.0 L531.9,465.3 L533.4,464.6 L534.9,463.9 L536.4,463.1 L537.9,462.3 L539.4,461.3 L540.9,460.3 L542.4,459.3 L543.9,458.2 L545.4,457.1 L546.9,455.9 L548.4,454.7 L549.9,453.4 L551.4,452.1 L552.9,450.7 L554.4,449.4 L555.9,448.1 L557.4,446.7 L558.9,445.3 L560.4,443.9 L561.9,442.6 L563.4,441.2 L564.9,439.8 L566.4,438.5 L567.9,437.1 L569.4,435.8 L570.9,434.5 L572.4,433.3 L573.9,432.1 L575.4,430.9 L576.9,429.8 L578.4,428.7 L579.9,427.7 L581.4,426.7 L582.9,425.8 L584.4,424.9 L585.9,424.1 L587.4,423.3 L588.9,422.5 L590.4,421.7 L591.9,421.0 L593.4,420.3 L594.9,419.6 L596.4,419.0 L597.9,418.4 L599.4,417.8 L600.9,417.2 L602.4,416.7 L603.9,416.2 L605.4,415.7 L606.9,415.3 L608.4,414.8 L609.9,414.4 L611.4,414.0 L612.9,413.6 L614.4,413.2 L615.9,412.9 L617.4,412.5 L618.9,412.2 L620.4,411.8 L621.9,411.5 L623.4,411.2 L624.9,410.9 L626.4,410.7 L627.9,410.4 L629.4,410.1 L630.9,409.9 L632.4,409.6 L633.9,409.4 L635.4,409.2 L636.9,409.0 L638.4,408.8 L639.9,408.6 L641.4,408.4 L642.9,408.2 L644.4,408.0 L645.9,407.8 L647.4,407.6 L648.9,407.5 L650.4,407.3 L651.9,407.2 L653.4,407.0 L654.9,406.9 L656.4,406.7 L657.9,406.6 L659.4,406.4 L660.9,406.3 L662.4,406.2 L663.9,406.1 L665.4,405.9 L666.9,405.8 L668.4,405.7 L669.9,405.6 L671.4,405.5 L672.9,405.4 L674.4,405.3 L675.9,405.2 L677.4,405.1 L678.9,405.0 L680.4,404.9 L681.9,404.8 L683.4,404.8 L684.9,404.7 L686.4,404.6 L687.9,404.5 L689.4,404.4 L690.9,404.4 L692.4,404.3 L693.9,404.2 L695.4,404.2 L696.9,404.1 L698.4,404.0 L699.9,404.0 L701.4,403.9 L702.9,403.8 L704.4,403.8 L705.9,403.7 L707.4,403.7 L708.9,403.6 L710.4,403.6 L711.9,403.5 L713.4,403.5 L714.9,403.4 L716.4,403.4 L717.9,403.3 L719.4,403.3 L720.9,403.2 L722.4,403.2 L723.9,403.1 L725.4,403.1 L726.9,403.0 L728.4,403.0 L729.9,403.0 L731.4,402.9 L732.9,402.9 L734.4,402.9 L735.9,402.8 L737.4,402.8 L738.9,402.7 L740.4,402.7 L741.9,402.7 L743.4,402.6 L744.9,402.6 L746.4,402.6 L747.9,402.6 L749.4,402.5 L750.9,402.5 L752.4,402.5 L753.9,402.4 L755.4,402.4 L756.9,402.4 L758.4,402.4 L759.9,402.3 L761.4,402.3 L762.9,402.3 L764.4,402.3 L765.9,402.2 L767.4,402.2 L768.9,402.2 L770.4,402.2 L771.9,402.1 L773.4,402.1 L774.9,402.1 L776.4,402.1 L777.9,402.0 L779.4,402.0 L780.9,402.0 L782.4,402.0 L783.9,402.0 L785.4,401.9 L786.9,401.9 L788.4,401.9 L789.9,401.9 L791.4,401.9 L792.9,401.9 L794.4,401.8 L795.9,401.8 L797.4,401.8 L798.9,401.8 L800.4,401.8 L801.9,401.8 L803.4,401.7 L804.9,401.7 L806.4,401.7 L807.9,401.7 L809.4,401.7 L810.9,401.7 L812.4,401.6 L813.9,401.6 L815.4,401.6 L816.9,401.6 L818.4,401.6 L819.9,401.6 L821.4,401.6 L822.9,401.5 L824.4,401.5 L825.9,401.5 L828.5,401.5" stroke="#0000ff" stroke-dasharray="13.4 4 2.5 4 2.5 4 2.5 4"/>
<path d="M120.1,36.9 H210.5" stroke="#000"/>
<path d="M120.1,89 H210.5" stroke="#ff0000" stroke-dasharray="9.2 8.15"/>
<path d="M463.7,36.9 H550.9" stroke="#00ff00" stroke-dasharray="9.2 3.7 2.9 3.7"/>
<path d="M463.7,89 H550.9" stroke="#0000ff" stroke-dasharray="13.4 4 2.5 4 2.5 4 2.5 4"/>
</g>
<g fill="#000" stroke="none"><g transform="translate(83.00,289.24)"><use href="#g0" transform="translate(-14.40,0.00) scale(0.7200)"/></g>
<g transform="translate(83.00,219.78)"><use href="#g1" transform="translate(-14.40,0.00) scale(0.7200)"/></g>
<g transform="translate(83.00,150.32)"><use href="#g2" transform="translate(-14.40,0.00) scale(0.7200)"/></g>
<g transform="translate(83.00,80.86)"><use href="#g3" transform="translate(-14.40,0.00) scale(0.7200)"/></g>
<g transform="translate(83.00,349.40)"><use href="#g4" transform="translate(-14.40,0.00) scale(0.7200)"/></g>
<g transform="translate(83.00,17.00)"><use href="#g5" transform="translate(-28.80,0.00) scale(0.7200)"/><use href="#g4" transform="translate(-14.40,0.00) scale(0.7200)"/></g>
<g transform="translate(83.00,688.45)"><use href="#g4" transform="translate(-14.40,0.00) scale(0.7200)"/></g>
<g transform="translate(83.00,601.67)"><use href="#g6" transform="translate(-28.80,0.00) scale(0.7200)"/><use href="#g4" transform="translate(-14.40,0.00) scale(0.7200)"/></g>
<g transform="translate(83.00,514.90)"><use href="#g5" transform="translate(-43.20,0.00) scale(0.7200)"/><use href="#g4" transform="translate(-28.80,0.00) scale(0.7200)"/><use href="#g4" transform="translate(-14.40,0.00) scale(0.7200)"/></g>
<g transform="translate(83.00,428.12)"><use href="#g5" transform="translate(-43.20,0.00) scale(0.7200)"/><use href="#g6" transform="translate(-28.80,0.00) scale(0.7200)"/><use href="#g4" transform="translate(-14.40,0.00) scale(0.7200)"/></g>
<g transform="translate(89.90,729.30)"><use href="#g4" transform="translate(-25.20,0.00) scale(0.7200)"/><use href="#g7" transform="translate(-10.80,0.00) scale(0.7200)"/><use href="#g4" transform="translate(-3.60,0.00) scale(0.7200)"/><use href="#g5" transform="translate(10.80,0.00) scale(0.7200)"/></g>
<g transform="translate(261.39,729.30)"><use href="#g4" transform="translate(-25.20,0.00) scale(0.7200)"/><use href="#g7" transform="translate(-10.80,0.00) scale(0.7200)"/><use href="#g5" transform="translate(-3.60,0.00) scale(0.7200)"/><use href="#g4" transform="translate(10.80,0.00) scale(0.7200)"/></g>
<g transform="translate(432.89,729.30)"><use href="#g5" transform="translate(-25.20,0.00) scale(0.7200)"/><use href="#g7" transform="translate(-10.80,0.00) scale(0.7200)"/><use href="#g4" transform="translate(-3.60,0.00) scale(0.7200)"/><use href="#g4" transform="translate(10.80,0.00) scale(0.7200)"/></g>
<g transform="translate(604.38,729.30)"><use href="#g5" transform="translate(-32.40,0.00) scale(0.7200)"/><use href="#g4" transform="translate(-18.00,0.00) scale(0.7200)"/><use href="#g7" transform="translate(-3.60,0.00) scale(0.7200)"/><use href="#g4" transform="translate(3.60,0.00) scale(0.7200)"/><use href="#g4" transform="translate(18.00,0.00) scale(0.7200)"/></g>
<g transform="translate(775.88,729.30)"><use href="#g5" transform="translate(-39.60,0.00) scale(0.7200)"/><use href="#g4" transform="translate(-25.20,0.00) scale(0.7200)"/><use href="#g4" transform="translate(-10.80,0.00) scale(0.7200)"/><use href="#g7" transform="translate(3.60,0.00) scale(0.7200)"/><use href="#g4" transform="translate(10.80,0.00) scale(0.7200)"/><use href="#g4" transform="translate(25.20,0.00) scale(0.7200)"/></g>
<g transform="translate(459.00,757.20)"><use href="#g8" transform="translate(-21.16,0.00) scale(0.7200)"/><use href="#g9" transform="translate(-10.36,0.00) scale(0.7200)"/><use href="#g8" transform="translate(5.48,0.00) scale(0.7200)"/><use href="#g10" transform="translate(16.28,6.00) scale(0.4430)"/></g>
<g transform="translate(35.20,177.10) rotate(-90) scale(0.9940,1)"><use href="#g11" transform="translate(-159.12,0.00) scale(0.7200)"/><use href="#g12" transform="translate(-143.28,0.00) scale(0.7200)"/><use href="#g13" transform="translate(-128.16,0.00) scale(0.7200)"/><use href="#g14" transform="translate(-115.92,0.00) scale(0.7200)"/><use href="#g15" transform="translate(-102.24,0.00) scale(0.7200)"/><use href="#g16" transform="translate(-90.00,0.00) scale(0.7200)"/><use href="#g14" transform="translate(-77.04,0.00) scale(0.7200)"/><use href="#g17" transform="translate(-63.36,0.00) scale(0.7200)"/><use href="#g18" transform="translate(-37.44,0.00) scale(0.7200)"/><use href="#g19" transform="translate(-22.32,0.00) scale(0.7200)"/><use href="#g20" transform="translate(-7.92,0.00) scale(0.7200)"/><use href="#g21" transform="translate(0.00,0.00) scale(0.7200)"/><use href="#g15" transform="translate(14.40,0.00) scale(0.7200)"/><use href="#g22" transform="translate(26.64,0.00) scale(0.7200)"/><use href="#g23" transform="translate(34.56,0.00) scale(0.7200)"/><use href="#g21" transform="translate(47.52,0.00) scale(0.7200)"/><use href="#g8" transform="translate(61.92,0.00) scale(0.7200)"/><use href="#g22" transform="translate(72.72,0.00) scale(0.7200)"/><use href="#g19" transform="translate(80.64,0.00) scale(0.7200)"/><use href="#g24" transform="translate(95.04,0.00) scale(0.7200)"/><use href="#g25" transform="translate(121.68,0.00) scale(0.7200)"/><use href="#g26" transform="translate(131.76,0.00) scale(0.7200)"/><use href="#g27" transform="translate(149.04,0.00) scale(0.7200)"/></g>
<g transform="translate(21.30,523.60) rotate(-90) scale(0.9890,1)"><use href="#g28" transform="translate(-141.84,0.00) scale(0.7200)"/><use href="#g14" transform="translate(-126.00,0.00) scale(0.7200)"/><use href="#g20" transform="translate(-112.32,0.00) scale(0.7200)"/><use href="#g21" transform="translate(-104.40,0.00) scale(0.7200)"/><use href="#g8" transform="translate(-90.00,0.00) scale(0.7200)"/><use href="#g22" transform="translate(-79.20,0.00) scale(0.7200)"/><use href="#g16" transform="translate(-71.28,0.00) scale(0.7200)"/><use href="#g14" transform="translate(-58.32,0.00) scale(0.7200)"/><use href="#g29" transform="translate(-33.84,0.00) scale(0.7200)"/><use href="#g19" transform="translate(-18.00,0.00) scale(0.7200)"/><use href="#g13" transform="translate(-3.60,0.00) scale(0.7200)"/><use href="#g22" transform="translate(8.64,0.00) scale(0.7200)"/><use href="#g8" transform="translate(16.56,0.00) scale(0.7200)"/><use href="#g22" transform="translate(27.36,0.00) scale(0.7200)"/><use href="#g19" transform="translate(35.28,0.00) scale(0.7200)"/><use href="#g24" transform="translate(49.68,0.00) scale(0.7200)"/><use href="#g21" transform="translate(76.32,0.00) scale(0.7200)"/><use href="#g24" transform="translate(90.72,0.00) scale(0.7200)"/><use href="#g30" transform="translate(106.56,0.00) scale(0.7200)"/><use href="#g20" transform="translate(120.24,0.00) scale(0.7200)"/><use href="#g14" transform="translate(128.16,0.00) scale(0.7200)"/></g>
<g transform="translate(223.30,40.80)"><use href="#g18" transform="translate(0.00,0.00) scale(0.7200)"/><use href="#g31" transform="translate(15.12,5.60) scale(0.4430)"/><use href="#g32" transform="translate(19.99,5.60) scale(0.4430)"/><use href="#g33" transform="translate(28.85,5.60) scale(0.4430)"/><use href="#g34" transform="translate(50.73,0.00) scale(0.7200)"/><use href="#g4" transform="translate(80.25,0.00) scale(0.7200)"/><use href="#g7" transform="translate(94.65,0.00) scale(0.7200)"/><use href="#g4" transform="translate(101.85,0.00) scale(0.7200)"/><use href="#g18" transform="translate(127.05,0.00) scale(0.7200)"/><use href="#g35" transform="translate(142.17,5.60) scale(0.4430)"/><use href="#g36" transform="translate(156.79,5.60) scale(0.4430)"/><use href="#g37" transform="translate(165.65,5.60) scale(0.4430)"/><use href="#g38" transform="translate(174.51,5.60) scale(0.4430)"/><use href="#g39" transform="translate(185.58,5.60) scale(0.4430)"/><use href="#g40" transform="translate(195.33,5.60) scale(0.4430)"/></g>
<g transform="translate(223.30,92.90)"><use href="#g18" transform="translate(0.00,0.00) scale(0.7200)"/><use href="#g31" transform="translate(15.12,5.60) scale(0.4430)"/><use href="#g32" transform="translate(19.99,5.60) scale(0.4430)"/><use href="#g33" transform="translate(28.85,5.60) scale(0.4430)"/><use href="#g34" transform="translate(50.73,0.00) scale(0.7200)"/><use href="#g4" transform="translate(80.25,0.00) scale(0.7200)"/><use href="#g7" transform="translate(94.65,0.00) scale(0.7200)"/><use href="#g5" transform="translate(101.85,0.00) scale(0.7200)"/><use href="#g18" transform="translate(127.05,0.00) scale(0.7200)"/><use href="#g35" transform="translate(142.17,5.60) scale(0.4430)"/><use href="#g36" transform="translate(156.79,5.60) scale(0.4430)"/><use href="#g37" transform="translate(165.65,5.60) scale(0.4430)"/><use href="#g38" transform="translate(174.51,5.60) scale(0.4430)"/><use href="#g39" transform="translate(185.58,5.60) scale(0.4430)"/><use href="#g40" transform="translate(195.33,5.60) scale(0.4430)"/></g>
<g transform="translate(566.80,40.80)"><use href="#g18" transform="translate(0.00,0.00) scale(0.7200)"/><use href="#g31" transform="translate(15.12,5.60) scale(0.4430)"/><use href="#g32" transform="translate(19.99,5.60) scale(0.4430)"/><use href="#g33" transform="translate(28.85,5.60) scale(0.4430)"/><use href="#g34" transform="translate(50.73,0.00) scale(0.7200)"/><use href="#g4" transform="translate(80.25,0.00) scale(0.7200)"/><use href="#g7" transform="translate(94.65,0.00) scale(0.7200)"/><use href="#g6" transform="translate(101.85,0.00) scale(0.7200)"/><use href="#g18" transform="translate(127.05,0.00) scale(0.7200)"/><use href="#g35" transform="translate(142.17,5.60) scale(0.4430)"/><use href="#g36" transform="translate(156.79,5.60) scale(0.4430)"/><use href="#g37" transform="translate(165.65,5.60) scale(0.4430)"/><use href="#g38" transform="translate(174.51,5.60) scale(0.4430)"/><use href="#g39" transform="translate(185.58,5.60) scale(0.4430)"/><use href="#g40" transform="translate(195.33,5.60) scale(0.4430)"/></g>
<g transform="translate(566.80,92.90)"><use href="#g18" transform="translate(0.00,0.00) scale(0.7200)"/><use href="#g31" transform="translate(15.12,5.60) scale(0.4430)"/><use href="#g32" transform="translate(19.99,5.60) scale(0.4430)"/><use href="#g33" transform="translate(28.85,5.60) scale(0.4430)"/><use href="#g34" transform="translate(50.73,0.00) scale(0.7200)"/><use href="#g4" transform="translate(80.25,0.00) scale(0.7200)"/><use href="#g7" transform="translate(94.65,0.00) scale(0.7200)"/><use href="#g41" transform="translate(101.85,0.00) scale(0.7200)"/><use href="#g18" transform="translate(127.05,0.00) scale(0.7200)"/><use href="#g35" transform="translate(142.17,5.60) scale(0.4430)"/><use href="#g36" transform="translate(156.79,5.60) scale(0.4430)"/><use href="#g37" transform="translate(165.65,5.60) scale(0.4430)"/><use href="#g38" transform="translate(174.51,5.60) scale(0.4430)"/><use href="#g39" transform="translate(185.58,5.60) scale(0.4430)"/><use href="#g40" transform="translate(195.33,5.60) scale(0.4430)"/></g>
<g transform="translate(618.00,593.00)"><use href="#g31" transform="translate(0.00,5.00) scale(0.4430)"/><use href="#g32" transform="translate(4.87,5.00) scale(0.4430)"/><use href="#g33" transform="translate(13.73,5.00) scale(0.4430)"/><use href="#g34" transform="translate(24.81,0.00) scale(0.7200)"/><use href="#g42" transform="translate(43.53,0.00) scale(0.7200)"/><use href="#g5" transform="translate(62.25,0.00) scale(0.7200)"/><use href="#g41" transform="translate(76.65,0.00) scale(0.7200)"/><use href="#g43" transform="translate(91.05,-9.50) scale(0.4430)"/></g></g>
<g transform="translate(611.4,585.4) skewX(-17)" fill="#000" stroke="none"><path fill-rule="evenodd" d="M-5,0 a5,8.3 0 1,0 10,0 a5,8.3 0 1,0 -10,0 Z M-2.9,0 a2.9,7.1 0 1,0 5.8,0 a2.9,7.1 0 1,0 -5.8,0 Z"/><rect x="-3.4" y="-0.65" width="6.8" height="1.3"/></g>
</svg>
</body></html>
